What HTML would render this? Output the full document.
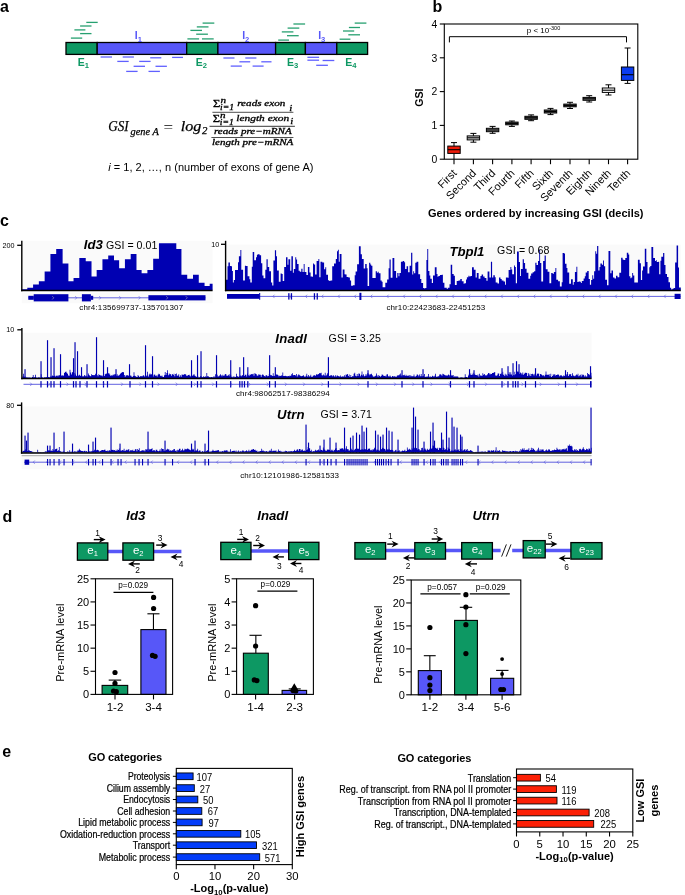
<!DOCTYPE html>
<html lang="en"><head><meta charset="utf-8"><title>GSI figure</title>
<style>html,body{margin:0;padding:0;background:#fff}svg{display:block}text{font-family:"Liberation Sans",Arial,Helvetica,sans-serif}text.sf{font-family:"Liberation Serif","DejaVu Serif",serif}</style></head>
<body>
<svg width="685" height="895" viewBox="0 0 685 895">
<rect width="685" height="895" fill="#fff"/>
<text transform="translate(0 11.6)" font-size="16" font-weight="bold">a</text>
<text transform="translate(432.5 11.6)" font-size="16" font-weight="bold">b</text>
<text transform="translate(0 226)" font-size="16" font-weight="bold">c</text>
<text transform="translate(2.4 521.8)" font-size="16" font-weight="bold">d</text>
<text transform="translate(2.2 756.7)" font-size="16" font-weight="bold">e</text>
<rect x="66" y="42.5" width="31.2" height="11.9" fill="#0d9863" stroke="#000" stroke-width="1.3"/>
<rect x="97.2" y="42.5" width="89.5" height="11.9" fill="#5757f8" stroke="#000" stroke-width="1.3"/>
<rect x="186.7" y="42.5" width="31.2" height="11.9" fill="#0d9863" stroke="#000" stroke-width="1.3"/>
<rect x="217.9" y="42.5" width="57.7" height="11.9" fill="#5757f8" stroke="#000" stroke-width="1.3"/>
<rect x="275.6" y="42.5" width="29.8" height="11.9" fill="#0d9863" stroke="#000" stroke-width="1.3"/>
<rect x="305.4" y="42.5" width="31.4" height="11.9" fill="#5757f8" stroke="#000" stroke-width="1.3"/>
<rect x="336.8" y="42.5" width="30.8" height="11.9" fill="#0d9863" stroke="#000" stroke-width="1.3"/>
<line x1="86.3" y1="22.4" x2="97.7" y2="22.4" stroke="#27a070" stroke-width="1.3" />
<line x1="80.1" y1="26" x2="91.5" y2="26" stroke="#27a070" stroke-width="1.3" />
<line x1="74.4" y1="29.9" x2="85.4" y2="29.9" stroke="#27a070" stroke-width="1.3" />
<line x1="80.1" y1="33.6" x2="91.5" y2="33.6" stroke="#27a070" stroke-width="1.3" />
<line x1="70.9" y1="38.1" x2="82.2" y2="38.1" stroke="#27a070" stroke-width="1.3" />
<line x1="202.6" y1="23.1" x2="214.3" y2="23.1" stroke="#27a070" stroke-width="1.3" />
<line x1="196.8" y1="26.9" x2="208.5" y2="26.9" stroke="#27a070" stroke-width="1.3" />
<line x1="190.4" y1="30.4" x2="202" y2="30.4" stroke="#27a070" stroke-width="1.3" />
<line x1="196.2" y1="34.2" x2="207.9" y2="34.2" stroke="#27a070" stroke-width="1.3" />
<line x1="187.4" y1="38.9" x2="199.1" y2="38.9" stroke="#27a070" stroke-width="1.3" />
<line x1="202" y1="38.9" x2="213.7" y2="38.9" stroke="#27a070" stroke-width="1.3" />
<line x1="293.4" y1="24" x2="305.1" y2="24" stroke="#27a070" stroke-width="1.3" />
<line x1="287.6" y1="28.1" x2="299.3" y2="28.1" stroke="#27a070" stroke-width="1.3" />
<line x1="281.8" y1="31.9" x2="293.4" y2="31.9" stroke="#27a070" stroke-width="1.3" />
<line x1="287" y1="35.7" x2="298.7" y2="35.7" stroke="#27a070" stroke-width="1.3" />
<line x1="278.2" y1="40.1" x2="289" y2="40.1" stroke="#27a070" stroke-width="1.3" />
<line x1="354.7" y1="23.1" x2="366.4" y2="23.1" stroke="#27a070" stroke-width="1.3" />
<line x1="348.9" y1="27.5" x2="360" y2="27.5" stroke="#27a070" stroke-width="1.3" />
<line x1="343" y1="31" x2="354.2" y2="31" stroke="#27a070" stroke-width="1.3" />
<line x1="348.3" y1="34.8" x2="360" y2="34.8" stroke="#27a070" stroke-width="1.3" />
<line x1="339.6" y1="39.2" x2="350.4" y2="39.2" stroke="#27a070" stroke-width="1.3" />
<line x1="100.6" y1="57" x2="112" y2="57" stroke="#6060ff" stroke-width="1.3" />
<line x1="122.7" y1="57" x2="133.9" y2="57" stroke="#6060ff" stroke-width="1.3" />
<line x1="150.2" y1="57.8" x2="161.3" y2="57.8" stroke="#6060ff" stroke-width="1.3" />
<line x1="172.1" y1="57.4" x2="183" y2="57.4" stroke="#6060ff" stroke-width="1.3" />
<line x1="117.3" y1="61.4" x2="128.7" y2="61.4" stroke="#6060ff" stroke-width="1.3" />
<line x1="139.2" y1="61.4" x2="150.6" y2="61.4" stroke="#6060ff" stroke-width="1.3" />
<line x1="133.6" y1="66.3" x2="145" y2="66.3" stroke="#6060ff" stroke-width="1.3" />
<line x1="155.5" y1="66.3" x2="166.9" y2="66.3" stroke="#6060ff" stroke-width="1.3" />
<line x1="126.2" y1="71.4" x2="137.6" y2="71.4" stroke="#6060ff" stroke-width="1.3" />
<line x1="148.5" y1="71.4" x2="159.9" y2="71.4" stroke="#6060ff" stroke-width="1.3" />
<line x1="223.4" y1="58" x2="234.5" y2="58" stroke="#6060ff" stroke-width="1.3" />
<line x1="245.3" y1="58" x2="256.4" y2="58" stroke="#6060ff" stroke-width="1.3" />
<line x1="239.4" y1="61.8" x2="250.2" y2="61.8" stroke="#6060ff" stroke-width="1.3" />
<line x1="261.3" y1="61.8" x2="271.5" y2="61.8" stroke="#6060ff" stroke-width="1.3" />
<line x1="230.7" y1="66.1" x2="241.8" y2="66.1" stroke="#6060ff" stroke-width="1.3" />
<line x1="252.6" y1="66.1" x2="263.6" y2="66.1" stroke="#6060ff" stroke-width="1.3" />
<line x1="307.4" y1="57.3" x2="319.1" y2="57.3" stroke="#6060ff" stroke-width="1.3" />
<line x1="307.4" y1="60.2" x2="319.1" y2="60.2" stroke="#6060ff" stroke-width="1.3" />
<line x1="322.6" y1="60.5" x2="334.3" y2="60.5" stroke="#6060ff" stroke-width="1.3" />
<line x1="316.2" y1="65.3" x2="327.9" y2="65.3" stroke="#6060ff" stroke-width="1.3" />
<text transform="translate(77.8 65.5)" font-size="10.5" font-weight="bold" fill="#0d9863">E<tspan font-size="7.6" dy="2.1">1</tspan></text>
<text transform="translate(195.8 65.5)" font-size="10.5" font-weight="bold" fill="#0d9863">E<tspan font-size="7.6" dy="2.1">2</tspan></text>
<text transform="translate(287 65.5)" font-size="10.5" font-weight="bold" fill="#0d9863">E<tspan font-size="7.6" dy="2.1">3</tspan></text>
<text transform="translate(345.3 65.5)" font-size="10.5" font-weight="bold" fill="#0d9863">E<tspan font-size="7.6" dy="2.1">4</tspan></text>
<text transform="translate(134.8 38.7)" font-size="10.5" font-weight="bold" fill="#5757f8">I<tspan font-size="7.6" dy="2.8">1</tspan></text>
<text transform="translate(242.2 38.7)" font-size="10.5" font-weight="bold" fill="#5757f8">I<tspan font-size="7.6" dy="2.8">2</tspan></text>
<text transform="translate(318.2 38.7)" font-size="10.5" font-weight="bold" fill="#5757f8">I<tspan font-size="7.6" dy="2.8">3</tspan></text>
<text transform="translate(108.2 130.9)" font-size="15.2" font-style="italic" class="sf" textLength="20.4" lengthAdjust="spacingAndGlyphs" stroke="#000" stroke-width="0.25">GSI</text>
<text transform="translate(130.6 134.5)" font-size="10" font-style="italic" class="sf" textLength="28.2" lengthAdjust="spacingAndGlyphs" stroke="#000" stroke-width="0.25">gene A</text>
<text transform="translate(163.6 131.8)" font-size="15" class="sf" textLength="9.6" lengthAdjust="spacingAndGlyphs">=</text>
<text transform="translate(180.8 130.9)" font-size="15" font-style="italic" class="sf" textLength="20.6" lengthAdjust="spacingAndGlyphs" stroke="#000" stroke-width="0.25">log</text>
<text transform="translate(202 134)" font-size="10.8" font-style="italic" class="sf" stroke="#000" stroke-width="0.25">2</text>
<line x1="209.5" y1="126.3" x2="294.9" y2="126.3" stroke="#222" stroke-width="0.9" />
<line x1="212.4" y1="112.3" x2="293.4" y2="112.3" stroke="#222" stroke-width="0.8" />
<line x1="211.4" y1="137.5" x2="293.4" y2="137.5" stroke="#222" stroke-width="0.8" />
<text transform="translate(213.1 107.4)" font-size="10.6" class="sf" textLength="7.3" lengthAdjust="spacingAndGlyphs" stroke="#000" stroke-width="0.3">Σ</text>
<text transform="translate(220.4 102.6)" font-size="8.6" font-style="italic" class="sf" textLength="5.6" lengthAdjust="spacingAndGlyphs" stroke="#000" stroke-width="0.3">n</text>
<text transform="translate(220.1 109.6)" font-size="8.6" font-style="italic" class="sf" textLength="14" lengthAdjust="spacingAndGlyphs" stroke="#000" stroke-width="0.3">i=1</text>
<text transform="translate(237.2 106.4)" font-size="8.8" font-style="italic" class="sf" textLength="48.2" lengthAdjust="spacingAndGlyphs" stroke="#000" stroke-width="0.3">reads exon</text>
<text transform="translate(289.3 111)" font-size="8.6" font-style="italic" class="sf" textLength="3" lengthAdjust="spacingAndGlyphs" stroke="#000" stroke-width="0.3">i</text>
<text transform="translate(212.8 122.4)" font-size="10.6" class="sf" textLength="7.3" lengthAdjust="spacingAndGlyphs" stroke="#000" stroke-width="0.3">Σ</text>
<text transform="translate(220.1 117.6)" font-size="8.6" font-style="italic" class="sf" textLength="5.6" lengthAdjust="spacingAndGlyphs" stroke="#000" stroke-width="0.3">n</text>
<text transform="translate(219.8 124.6)" font-size="8.6" font-style="italic" class="sf" textLength="14" lengthAdjust="spacingAndGlyphs" stroke="#000" stroke-width="0.3">i=1</text>
<text transform="translate(236.2 121.3)" font-size="8.8" font-style="italic" class="sf" textLength="53.1" lengthAdjust="spacingAndGlyphs" stroke="#000" stroke-width="0.3">length exon</text>
<text transform="translate(290.2 123.5)" font-size="8.6" font-style="italic" class="sf" textLength="3" lengthAdjust="spacingAndGlyphs" stroke="#000" stroke-width="0.3">i</text>
<text transform="translate(213.9 134.4)" font-size="8.8" font-style="italic" class="sf" textLength="77.8" lengthAdjust="spacingAndGlyphs" stroke="#000" stroke-width="0.3">reads pre−mRNA</text>
<text transform="translate(212 145.4)" font-size="8.8" font-style="italic" class="sf" textLength="81.4" lengthAdjust="spacingAndGlyphs" stroke="#000" stroke-width="0.3">length pre−mRNA</text>
<text transform="translate(108.2 170.6)" font-size="11" textLength="205.3" lengthAdjust="spacing"><tspan font-style="italic">i</tspan> = 1, 2, …, n (number of exons of gene A)</text>
<rect x="444.3" y="24" width="193.5" height="135.2" fill="none" stroke="#000" stroke-width="1.1"/>
<line x1="439.8" y1="159.2" x2="444.3" y2="159.2" stroke="#000" stroke-width="1.1" />
<text transform="translate(437.3 162.9)" font-size="10.4" text-anchor="end">0</text>
<line x1="439.8" y1="125.4" x2="444.3" y2="125.4" stroke="#000" stroke-width="1.1" />
<text transform="translate(437.3 129.1)" font-size="10.4" text-anchor="end">1</text>
<line x1="439.8" y1="91.6" x2="444.3" y2="91.6" stroke="#000" stroke-width="1.1" />
<text transform="translate(437.3 95.3)" font-size="10.4" text-anchor="end">2</text>
<line x1="439.8" y1="57.8" x2="444.3" y2="57.8" stroke="#000" stroke-width="1.1" />
<text transform="translate(437.3 61.5)" font-size="10.4" text-anchor="end">3</text>
<line x1="439.8" y1="24" x2="444.3" y2="24" stroke="#000" stroke-width="1.1" />
<text transform="translate(437.3 27.7)" font-size="10.4" text-anchor="end">4</text>
<text transform="translate(422.9 97.7) rotate(-90)" font-size="10.6" text-anchor="middle" font-weight="bold">GSI</text>
<path d="M449.4 42.4V36.7H626.5V42.4" fill="none" stroke="#000" stroke-width="1"/>
<text transform="translate(543.5 32.7)" font-size="8" text-anchor="middle">p &lt; 10<tspan font-size="5.5" dy="-3">-300</tspan></text>
<line x1="454" y1="159.2" x2="454" y2="164.2" stroke="#000" stroke-width="1.1" />
<line x1="454" y1="142.6" x2="454" y2="159.2" stroke="#000" stroke-width="1" />
<line x1="451" y1="142.6" x2="457" y2="142.6" stroke="#000" stroke-width="1" />
<rect x="447.8" y="146.1" width="12.4" height="7.3" fill="#ee1c0a" stroke="#000" stroke-width="1"/>
<line x1="447.8" y1="149.7" x2="460.2" y2="149.7" stroke="#000" stroke-width="1.1" />
<text transform="translate(457.4 173.8) rotate(-45)" font-size="11" text-anchor="end">First</text>
<line x1="473.4" y1="159.2" x2="473.4" y2="164.2" stroke="#000" stroke-width="1.1" />
<line x1="473.4" y1="133.4" x2="473.4" y2="142.2" stroke="#000" stroke-width="1" />
<line x1="470.4" y1="133.4" x2="476.4" y2="133.4" stroke="#000" stroke-width="1" />
<line x1="470.4" y1="142.2" x2="476.4" y2="142.2" stroke="#000" stroke-width="1" />
<rect x="467.2" y="135.9" width="12.4" height="4" fill="#cfcfcf" stroke="#000" stroke-width="1"/>
<line x1="467.2" y1="137.8" x2="479.6" y2="137.8" stroke="#000" stroke-width="1.1" />
<text transform="translate(476.8 173.8) rotate(-45)" font-size="11" text-anchor="end">Second</text>
<line x1="492.6" y1="159.2" x2="492.6" y2="164.2" stroke="#000" stroke-width="1.1" />
<line x1="492.6" y1="126.4" x2="492.6" y2="133.3" stroke="#000" stroke-width="1" />
<line x1="489.6" y1="126.4" x2="495.6" y2="126.4" stroke="#000" stroke-width="1" />
<line x1="489.6" y1="133.3" x2="495.6" y2="133.3" stroke="#000" stroke-width="1" />
<rect x="486.4" y="128.3" width="12.4" height="3.4" fill="#8a8a8a" stroke="#000" stroke-width="1"/>
<line x1="486.4" y1="130" x2="498.8" y2="130" stroke="#000" stroke-width="1.1" />
<text transform="translate(496 173.8) rotate(-45)" font-size="11" text-anchor="end">Third</text>
<line x1="511.9" y1="159.2" x2="511.9" y2="164.2" stroke="#000" stroke-width="1.1" />
<line x1="511.9" y1="121" x2="511.9" y2="126.4" stroke="#000" stroke-width="1" />
<line x1="508.9" y1="121" x2="514.9" y2="121" stroke="#000" stroke-width="1" />
<line x1="508.9" y1="126.4" x2="514.9" y2="126.4" stroke="#000" stroke-width="1" />
<rect x="505.7" y="122.1" width="12.4" height="2.7" fill="#555" stroke="#000" stroke-width="1"/>
<line x1="505.7" y1="123.4" x2="518.1" y2="123.4" stroke="#000" stroke-width="1.1" />
<text transform="translate(515.3 173.8) rotate(-45)" font-size="11" text-anchor="end">Fourth</text>
<line x1="531.1" y1="159.2" x2="531.1" y2="164.2" stroke="#000" stroke-width="1.1" />
<line x1="531.1" y1="114.9" x2="531.1" y2="120.7" stroke="#000" stroke-width="1" />
<line x1="528.1" y1="114.9" x2="534.1" y2="114.9" stroke="#000" stroke-width="1" />
<line x1="528.1" y1="120.7" x2="534.1" y2="120.7" stroke="#000" stroke-width="1" />
<rect x="524.9" y="116.3" width="12.4" height="3" fill="#555" stroke="#000" stroke-width="1"/>
<line x1="524.9" y1="117.8" x2="537.3" y2="117.8" stroke="#000" stroke-width="1.1" />
<text transform="translate(534.5 173.8) rotate(-45)" font-size="11" text-anchor="end">Fifth</text>
<line x1="550.5" y1="159.2" x2="550.5" y2="164.2" stroke="#000" stroke-width="1.1" />
<line x1="550.5" y1="108.4" x2="550.5" y2="114.6" stroke="#000" stroke-width="1" />
<line x1="547.5" y1="108.4" x2="553.5" y2="108.4" stroke="#000" stroke-width="1" />
<line x1="547.5" y1="114.6" x2="553.5" y2="114.6" stroke="#000" stroke-width="1" />
<rect x="544.3" y="110" width="12.4" height="3" fill="#555" stroke="#000" stroke-width="1"/>
<line x1="544.3" y1="111.5" x2="556.7" y2="111.5" stroke="#000" stroke-width="1.1" />
<text transform="translate(553.9 173.8) rotate(-45)" font-size="11" text-anchor="end">Sixth</text>
<line x1="570" y1="159.2" x2="570" y2="164.2" stroke="#000" stroke-width="1.1" />
<line x1="570" y1="102.3" x2="570" y2="108.5" stroke="#000" stroke-width="1" />
<line x1="567" y1="102.3" x2="573" y2="102.3" stroke="#000" stroke-width="1" />
<line x1="567" y1="108.5" x2="573" y2="108.5" stroke="#000" stroke-width="1" />
<rect x="563.8" y="104.1" width="12.4" height="2.7" fill="#555" stroke="#000" stroke-width="1"/>
<line x1="563.8" y1="105.4" x2="576.2" y2="105.4" stroke="#000" stroke-width="1.1" />
<text transform="translate(573.4 173.8) rotate(-45)" font-size="11" text-anchor="end">Seventh</text>
<line x1="589.2" y1="159.2" x2="589.2" y2="164.2" stroke="#000" stroke-width="1.1" />
<line x1="589.2" y1="95.7" x2="589.2" y2="102" stroke="#000" stroke-width="1" />
<line x1="586.2" y1="95.7" x2="592.2" y2="95.7" stroke="#000" stroke-width="1" />
<line x1="586.2" y1="102" x2="592.2" y2="102" stroke="#000" stroke-width="1" />
<rect x="583" y="97.4" width="12.4" height="2.9" fill="#777" stroke="#000" stroke-width="1"/>
<line x1="583" y1="98.8" x2="595.4" y2="98.8" stroke="#000" stroke-width="1.1" />
<text transform="translate(592.6 173.8) rotate(-45)" font-size="11" text-anchor="end">Eighth</text>
<line x1="608.5" y1="159.2" x2="608.5" y2="164.2" stroke="#000" stroke-width="1.1" />
<line x1="608.5" y1="84.8" x2="608.5" y2="95" stroke="#000" stroke-width="1" />
<line x1="605.5" y1="84.8" x2="611.5" y2="84.8" stroke="#000" stroke-width="1" />
<line x1="605.5" y1="95" x2="611.5" y2="95" stroke="#000" stroke-width="1" />
<rect x="602.3" y="88" width="12.4" height="4.4" fill="#ffffff" stroke="#000" stroke-width="1"/>
<line x1="602.3" y1="90.2" x2="614.7" y2="90.2" stroke="#000" stroke-width="1.1" />
<text transform="translate(611.9 173.8) rotate(-45)" font-size="11" text-anchor="end">Nineth</text>
<line x1="627.6" y1="159.2" x2="627.6" y2="164.2" stroke="#000" stroke-width="1.1" />
<line x1="627.6" y1="48" x2="627.6" y2="83.4" stroke="#000" stroke-width="1" />
<line x1="624.6" y1="48" x2="630.6" y2="48" stroke="#000" stroke-width="1" />
<line x1="624.6" y1="83.4" x2="630.6" y2="83.4" stroke="#000" stroke-width="1" />
<rect x="621.4" y="67" width="12.4" height="13.4" fill="#0a3cf0" stroke="#000" stroke-width="1"/>
<line x1="621.4" y1="74.7" x2="633.8" y2="74.7" stroke="#000" stroke-width="1.1" />
<text transform="translate(631 173.8) rotate(-45)" font-size="11" text-anchor="end">Tenth</text>
<text transform="translate(427.9 216.9)" font-size="11" font-weight="bold" textLength="215.6" lengthAdjust="spacing">Genes ordered by increasing GSI (decils)</text>
<rect x="21.8" y="240.8" width="190.8" height="49.4" fill="#fafafa"/>
<path d="M21.52 290.2V289.24H27.3V287.63H33.08V284.42H38.86V281.21H44.64V271.57H50.42V253.91H56.2V249.1H62.62V263.55H68.4V281.21H73.54V278H79.32V258.09H85.74V261.3H91.52V276.39H96.66V269.97H102.44V259.37H108.22V255.52H114V260.33H119.14V268.36H124.92V259.37H130.7V253.91H136.48V269.97H141.62V273.18H147.4V269.97H153.18V258.73H158.96V243.31H176.3V249.1H181.44V274.79H187.22V278.64H193V274.79H198.78V282.81H204.56V286.03H209.7V283.78H212.59V290.2Z" fill="#0000b2"/>
<line x1="21.8" y1="240.8" x2="21.8" y2="291.2" stroke="#000" stroke-width="1.4" />
<line x1="17.2" y1="245.3" x2="21.8" y2="245.3" stroke="#000" stroke-width="1.3" />
<line x1="21.1" y1="290.5" x2="212.6" y2="290.5" stroke="#000" stroke-width="1.5" />
<text transform="translate(14.4 247.9)" font-size="7.2" text-anchor="end">200</text>
<text transform="translate(83.8 248.7)" font-size="13.2" font-weight="bold" font-style="italic">Id3</text>
<text transform="translate(106 248.7)" font-size="10.6" textLength="51.4" lengthAdjust="spacing">GSI = 0.01</text>
<rect x="21.8" y="292.6" width="190.8" height="10.6" fill="#fafafa"/>
<line x1="28.3" y1="297.8" x2="205.5" y2="297.8" stroke="#3a3ad8" stroke-width="0.8" />
<rect x="28.3" y="295.8" width="5.5" height="4" fill="#0000b2"/>
<rect x="33.7" y="294.2" width="34.7" height="7.2" fill="#0000b2"/>
<rect x="81.9" y="294.2" width="9" height="7.2" fill="#0000b2"/>
<rect x="90.9" y="295.8" width="2.3" height="4" fill="#0000b2"/>
<rect x="148.4" y="295.2" width="57.1" height="5.2" fill="#0000b2"/>
<path d="M75.2 296.1l1.6 1.7l-1.6 1.7M99.2 296.1l1.6 1.7l-1.6 1.7M119.2 296.1l1.6 1.7l-1.6 1.7M138.7 296.1l1.6 1.7l-1.6 1.7" fill="none" stroke="#5656dc" stroke-width="0.6"/>
<path d="M52.2 296.1l1.6 1.7l-1.6 1.7M166.2 296.1l1.6 1.7l-1.6 1.7M185.7 296.1l1.6 1.7l-1.6 1.7" fill="none" stroke="#aab" stroke-width="0.6"/>
<text transform="translate(79.3 309.7)" font-size="8" textLength="103.8" lengthAdjust="spacing">chr4:135699737-135701307</text>
<rect x="225.6" y="244.6" width="455.2" height="45.6" fill="#fafafa"/>
<path d="M226 290.2V279.69H227.5V266.36H228.4V262.5H229.9V266.04H231.1V266.2H232V270.9H232.9V282.38H233.8V280.04H235V270.1H236.5V269.98H238V262.34H238.9V256.37H240.4V249.92H241.3V269.84H243.1V280.59H244.9V265.64H246.1V266.02H247.6V276.25H249.4V279.2H250.3V282.38H251.8V266.8H252.7V251.92H254.2V260.16H256V257.36H256.9V254.82H257.8V254.23H259.6V255.21H261.1V263.27H262.3V275.39H263.5V278.37H265.3V269.8H266.5V259.13H267.7V266.94H269.2V271.26H271V282.62H272.2V285.59H273.4V260.59H274.9V250.36H276.1V256.22H277V270.43H278.8V281.65H280.6V273.44H281.8V273.88H282.7V280.88H284.2V267.06H286V257.16H287.5V264.81H288.4V259.17H290.2V270.67H291.4V256.18H292.9V272.68H293.8V268.99H295.3V257.24H296.2V259.46H297.1V263.88H298.6V270.73H299.8V271.72H301.3V268.83H302.5V271.95H303.7V264.07H304.6V272.1H306.4V275.09H307.9V267.08H309.4V272.54H310.6V276.54H312.1V276.73H313V263.44H313.9V264.59H315.1V274.44H316.6V261.05H318.4V259.05H319.3V277.31H320.5V261.8H322.3V262.59H324.1V269.34H325.3V267.14H326.2V274.79H328V280.22H329.2V281.01H330.4V280.47H332.2V266.21H334V263.41H335.8V259.1H337V251.19H337.9V249.7H338.8V261.85H339.7V254.04H341.5V277.49H342.7V269.5H344.5V274.2H345.4V274.53H346.6V277H348.4V277.41H349.9V280.4H351.1V285.82H352.9V285.15H354.7V275.37H355.6V271.58H357.1V264.16H358.9V246.26H360.7V254.34H361.9V259.07H363.7V268.42H365.2V264.07H366.7V268.22H367.6V286.01H369.1V262.7H370.3V264.51H371.2V265.85H372.4V278.05H373.9V277.96H375.7V271.13H376.9V272.7H377.8V271.65H378.7V273.28H380.5V280.44H381.7V281.82H382.6V287.18H383.8V287.35H385.3V282.76H387.1V279.59H388.6V268.25H389.5V259.48H390.7V277.76H392.5V258.1H394.3V271H396.1V277.69H397.3V272.92H398.5V276.13H399.4V272.91H400.9V261.73H402.7V261.04H404.2V262.2H405.1V268.89H406.6V266.24H408.1V272.15H409.6V265.68H411.1V252.87H412.3V274.43H413.2V271.26H414.1V273.34H415.3V262.65H416.5V261.83H418.3V274.36H420.1V278.89H421.3V282.93H423.1V287.95H424.3V288.56H425.2V288.04H426.4V260.09H427.3V248.93H428.2V270.95H429.4V275.62H430.3V278.63H431.8V282.88H433V275.53H434.8V267.32H436.6V273.9H437.5V276.76H438.4V275.96H439.9V274.89H441.7V274.71H442.9V282.69H444.4V287.63H445.3V287.64H446.8V288.9H447.7V287.63H449.5V284.17H450.7V264.71H452.2V273.98H453.7V275.67H454.9V284.92H456.7V281.04H458.5V280.45H460.3V279.07H461.8V281.24H463.6V283.69H464.5V283.15H466V279.41H466.9V277.32H468.4V275.67H469.3V276.48H470.5V276.09H472V267.29H473.8V269.84H475.6V277.57H476.8V272.96H478.6V278.79H480.4V276.12H481.6V274.46H483.1V276.54H484.6V278.01H486.4V280.84H487.6V271.62H489.4V277.5H490.9V261.73H492.1V277.42H493.3V275.31H494.8V277.37H495.7V282.41H497.5V283.44H499V277.53H500.5V279H501.7V280.57H503.5V281.61H505V284.64H505.9V277.4H507.7V277.8H508.6V269.9H510.4V266.97H511.3V269.49H512.2V274.2H514V265.52H514.9V266.92H515.8V283.14H517V251.61H518.8V261.99H520V276.12H520.9V269.04H522.7V259.22H523.9V263.09H525.1V268.82H526.6V272.79H528.4V278.64H530.2V275.71H531.1V273.56H532.6V272.31H534.1V271.32H535.3V262.83H536.5V265.1H538V260.89H539.2V249.7H540.1V262.88H541.3V281.46H543.1V260.99H544.6V255.38H545.8V269.29H547.6V271.65H549.4V283.29H551.2V272.97H552.7V273.8H553.9V271.99H555.4V267.89H556.3V279.72H558.1V281.29H559.9V286.38H561.7V282.16H562.6V252.99H564.1V253.55H565V263.85H566.5V268.11H567.4V272.4H569.2V283.67H571V279.34H572.8V284.78H573.7V282.12H574.9V272.02H576.4V266.63H577.3V281.95H578.5V281.55H580V281.85H580.9V282.94H581.8V280.89H583.6V278.55H584.8V276.14H585.7V272.42H587.2V271.02H588.7V278.9H589.9V284.81H591.1V279.96H592.3V275.33H593.2V278.72H594.1V271.34H595.3V251.32H596.2V253.63H597.1V246.03H598.3V270.48H599.5V266.92H600.4V263.45H601.9V264.75H603.1V260.58H604V266.23H605.2V279.75H607V285.37H608.5V250.95H610.3V273.34H611.5V270.59H613V277.48H614.5V278.44H616V275.75H617.5V277.17H619.3V272.69H621.1V257.84H622.6V259.61H623.5V259.91H625.3V257.99H626.8V252.66H628.3V254.46H629.2V276.15H630.4V278.17H631.3V277.4H632.2V272.95H633.1V275.61H634.3V282.54H636.1V282.59H637.9V259.64H639.7V263.23H640.9V280.06H642.1V270.48H643V266.53H644.8V248.87H646.3V261.95H647.5V273.6H649.3V267.33H650.2V266.1H651.4V246.93H653.2V258.1H655V261H655.9V260.31H656.8V261.94H658.3V261.86H659.2V274.16H660.4V260.76H661.3V256.72H663.1V253.06H664.3V265H665.5V273.98H667V276.98H668.5V282.29H670V287.64H671.2V289.45H672.4V288.85H673.6V288.01H675.1V262.54H676.6V245.59H678.1V267.49H679V287.6H680.8V289.82H680.8V290.2Z" fill="#0000b2"/>
<line x1="225.6" y1="240.8" x2="225.6" y2="291.2" stroke="#000" stroke-width="1.4" />
<line x1="221" y1="244.3" x2="225.6" y2="244.3" stroke="#000" stroke-width="1.3" />
<line x1="224.9" y1="290.5" x2="680.8" y2="290.5" stroke="#000" stroke-width="1.5" />
<text transform="translate(219.2 246.9)" font-size="7.2" text-anchor="end">10</text>
<text transform="translate(449.4 255.7)" font-size="13.2" font-weight="bold" font-style="italic" textLength="35" lengthAdjust="spacing">Tbpl1</text>
<text transform="translate(497 254)" font-size="10.6" textLength="52.5" lengthAdjust="spacing">GSI = 0.68</text>
<line x1="227" y1="296.4" x2="680.6" y2="296.4" stroke="#3a3ad8" stroke-width="0.8" />
<rect x="227" y="294" width="32.6" height="4.8" fill="#0000b2"/>
<rect x="259.2" y="293" width="1" height="6.8" fill="#0000b2"/>
<rect x="288.2" y="293.2" width="1.3" height="6.4" fill="#0000b2"/>
<rect x="290.8" y="293.2" width="1.3" height="6.4" fill="#0000b2"/>
<rect x="313.8" y="293.2" width="1.3" height="6.4" fill="#0000b2"/>
<rect x="316.6" y="293.2" width="1.3" height="6.4" fill="#0000b2"/>
<rect x="359.4" y="292.8" width="2" height="7.2" fill="#0000b2"/>
<rect x="674.6" y="293.8" width="6" height="5.2" fill="#0000b2"/>
<path d="M274.5 294.7l-1.6 1.7l1.6 1.7M290.8 294.7l-1.6 1.7l1.6 1.7M307.1 294.7l-1.6 1.7l1.6 1.7M323.4 294.7l-1.6 1.7l1.6 1.7M339.7 294.7l-1.6 1.7l1.6 1.7M356 294.7l-1.6 1.7l1.6 1.7M372.3 294.7l-1.6 1.7l1.6 1.7M388.6 294.7l-1.6 1.7l1.6 1.7M404.9 294.7l-1.6 1.7l1.6 1.7M421.2 294.7l-1.6 1.7l1.6 1.7M437.5 294.7l-1.6 1.7l1.6 1.7M453.8 294.7l-1.6 1.7l1.6 1.7M470.1 294.7l-1.6 1.7l1.6 1.7M486.4 294.7l-1.6 1.7l1.6 1.7M502.7 294.7l-1.6 1.7l1.6 1.7M519 294.7l-1.6 1.7l1.6 1.7M535.3 294.7l-1.6 1.7l1.6 1.7M551.6 294.7l-1.6 1.7l1.6 1.7M567.9 294.7l-1.6 1.7l1.6 1.7M584.2 294.7l-1.6 1.7l1.6 1.7M600.5 294.7l-1.6 1.7l1.6 1.7M616.8 294.7l-1.6 1.7l1.6 1.7M633.1 294.7l-1.6 1.7l1.6 1.7M649.4 294.7l-1.6 1.7l1.6 1.7M665.7 294.7l-1.6 1.7l1.6 1.7" fill="none" stroke="#5656dc" stroke-width="0.6"/>
<text transform="translate(386.4 309.8)" font-size="8" textLength="98.8" lengthAdjust="spacing">chr10:22423683-22451253</text>
<rect x="21.9" y="332.7" width="569.7" height="45.5" fill="#fafafa"/>
<path d="M22.4 378.2V376.5H23.2V373.71H24V376.65H24.8V376.61H25.6V377.62H26.4V377.31H27.2V377.55H28V377.47H28.8V377.57H29.6V377.59H30.4V377.64H31.2V377.63H32V377.04H32.8V375.11H33.6V377.46H34.4V376.97H35.2V374.83H36V377.54H36.8V377.73H37.6V377.62H38.4V377.31H39.2V377.58H40V377.69H40.8V374.27H41.6V377.33H42.4V377.53H43.2V377.69H44V377.13H44.8V377.49H45.6V377.04H46.4V377.16H47.2V375.38H48V377.07H48.8V377.24H49.6V377.16H50.4V376.31H51.2V376.43H52V375.46H52.8V376.02H53.6V375.91H54.4V375.6H55.2V376.45H56V375.63H56.8V375.54H57.6V376.3H58.4V375.22H59.2V375.17H60V373.63H60.8V375.18H61.6V376.05H62.4V375.03H63.2V375.79H64V372.92H64.8V371.89H65.6V371.41H66.4V372.67H67.2V373.64H68V375.49H68.8V375.86H69.6V369.73H70.4V372.56H71.2V374.42H72V371.94H72.8V372.95H73.6V375.75H74.4V373.06H75.2V374.53H76V375.73H76.8V376.09H77.6V375.79H78.4V375.58H79.2V374.83H80V375.92H80.8V375.06H81.6V375.63H82.4V376.43H83.2V376.15H84V374.95H84.8V376.36H85.6V375.41H86.4V376.27H87.2V376.49H88V373.41H88.8V375.11H89.6V376.12H90.4V376.35H91.2V374.3H92V375.01H92.8V375.19H93.6V375.11H94.4V375.14H95.2V373.71H96V373.79H96.8V375.03H97.6V376.14H98.4V374.22H99.2V375.12H100V375.17H100.8V375.87H101.6V375.23H102.4V376.32H103.2V373.99H104V376.12H104.8V374.19H105.6V373.84H106.4V373.46H107.2V375.2H108V373.35H108.8V373.57H109.6V374.65H110.4V375.99H111.2V375.13H112V375.51H112.8V374.43H113.6V375.29H114.4V373.89H115.2V374.3H116V375.78H116.8V374.25H117.6V375.85H118.4V375.4H119.2V374.68H120V373.85H120.8V373.09H121.6V372.27H122.4V372.06H123.2V372.37H124V375.1H124.8V376.84H125.6V375.46H126.4V375.2H127.2V375.22H128V375.68H128.8V375.31H129.6V375.93H130.4V375.19H131.2V376.53H132V376.89H132.8V375.97H133.6V372.32H134.4V375.79H135.2V376.19H136V376.83H136.8V376.93H137.6V374.98H138.4V375.88H139.2V376.91H140V376.25H140.8V375.95H141.6V376.52H142.4V375.77H143.2V375.17H144V376.38H144.8V375.54H145.6V376.28H146.4V375.58H147.2V371.7H148V376.42H148.8V374.53H149.6V373.58H150.4V374.47H151.2V374.29H152V374.99H152.8V376.54H153.6V374.83H154.4V374.46H155.2V375.8H156V375.44H156.8V376.48H157.6V374.66H158.4V373.74H159.2V374.32H160V375.68H160.8V376.19H161.6V375.43H162.4V376.75H163.2V376.9H164V375.26H164.8V371.91H165.6V374.96H166.4V373.01H167.2V370.34H168V375.21H168.8V373.56H169.6V374.39H170.4V374.08H171.2V375.7H172V374.04H172.8V375.01H173.6V373.78H174.4V376.21H175.2V373.88H176V373.54H176.8V375.64H177.6V375.52H178.4V374.14H179.2V376.67H180V375.15H180.8V376.64H181.6V374.6H182.4V374.73H183.2V374.67H184V374.26H184.8V373.99H185.6V374.81H186.4V376.03H187.2V375.57H188V374.88H188.8V374.69H189.6V375.78H190.4V376.48H191.2V376.09H192V375.74H192.8V375.29H193.6V374.02H194.4V375.39H195.2V376.18H196V376.73H196.8V376.92H197.6V376.41H198.4V377.42H199.2V377.36H200V376.35H200.8V376.3H201.6V376.96H202.4V377.14H203.2V376.24H204V376.9H204.8V376.2H205.6V376.65H206.4V373.1H207.2V376.16H208V376.24H208.8V376.92H209.6V377.21H210.4V377.18H211.2V377.02H212V377.35H212.8V377.32H213.6V376H214.4V377.17H215.2V374.14H216V375.6H216.8V374.77H217.6V376.42H218.4V376.16H219.2V375.4H220V374.17H220.8V375.18H221.6V376.26H222.4V374.75H223.2V375.82H224V375.61H224.8V374.05H225.6V374.13H226.4V375.81H227.2V375.83H228V375.29H228.8V374.27H229.6V376.33H230.4V374.81H231.2V376.63H232V377.17H232.8V376.37H233.6V377.36H234.4V376.49H235.2V377.01H236V373.8H236.8V376.3H237.6V376.35H238.4V376.96H239.2V376.1H240V375.55H240.8V376.37H241.6V375.47H242.4V375.06H243.2V375.94H244V375.96H244.8V374.79H245.6V374.67H246.4V376.47H247.2V373.52H248V375.37H248.8V375.63H249.6V374.42H250.4V374.67H251.2V374.02H252V374.17H252.8V373.74H253.6V375.75H254.4V373.35H255.2V373.75H256V374.31H256.8V375.67H257.6V375.39H258.4V374.14H259.2V374.73H260V374.63H260.8V376.64H261.6V374.95H262.4V374.3H263.2V375.35H264V375.95H264.8V376.39H265.6V375.34H266.4V375.27H267.2V376.34H268V375.92H268.8V374.33H269.6V374.84H270.4V375.36H271.2V375.33H272V376.01H272.8V373.21H273.6V375.95H274.4V375.81H275.2V374.42H276V374.59H276.8V374.58H277.6V375H278.4V376.31H279.2V375.71H280V375.91H280.8V375.39H281.6V375.49H282.4V372.45H283.2V375.93H284V376.09H284.8V375.68H285.6V375.99H286.4V376.13H287.2V376.27H288V375.88H288.8V376.23H289.6V375.5H290.4V376.03H291.2V374.34H292V373.23H292.8V375.33H293.6V375.12H294.4V375.08H295.2V375.51H296V373.93H296.8V376.4H297.6V375.26H298.4V374.36H299.2V375.33H300V375.67H300.8V376.25H301.6V375.94H302.4V375.63H303.2V375.22H304V376.45H304.8V376.66H305.6V375.82H306.4V373.85H307.2V376.43H308V375.09H308.8V376.52H309.6V376.37H310.4V374.76H311.2V376.69H312V376.73H312.8V375.81H313.6V375.19H314.4V375.32H315.2V375.83H316V374.15H316.8V374.85H317.6V374.15H318.4V374.03H319.2V373.12H320V373.27H320.8V372.76H321.6V375.32H322.4V375.4H323.2V374.47H324V375.58H324.8V372.75H325.6V375.8H326.4V374.78H327.2V373.29H328V375.54H328.8V376.09H329.6V375.67H330.4V375.32H331.2V375.32H332V376.32H332.8V375.07H333.6V376.01H334.4V376.78H335.2V375.21H336V376.55H336.8V375.27H337.6V375.95H338.4V376.27H339.2V376.42H340V375.61H340.8V376.97H341.6V376.26H342.4V376.53H343.2V376.41H344V375.37H344.8V376.73H345.6V374.62H346.4V374.63H347.2V374.08H348V376.02H348.8V374.4H349.6V377.09H350.4V375.06H351.2V377.06H352V376.23H352.8V376.27H353.6V373.8H354.4V372.77H355.2V375.73H356V376.13H356.8V374.01H357.6V376.11H358.4V373.41H359.2V373.73H360V376.22H360.8V374.74H361.6V371.39H362.4V375.55H363.2V374.33H364V376.19H364.8V375.73H365.6V374.09H366.4V375.6H367.2V373.35H368V373.51H368.8V375.29H369.6V373.9H370.4V374.42H371.2V373.66H372V375.19H372.8V376.59H373.6V376.77H374.4V376.24H375.2V375.84H376V373.41H376.8V375.61H377.6V376.72H378.4V375.1H379.2V376.08H380V376.66H380.8V375.96H381.6V374.52H382.4V374.68H383.2V375.87H384V375.89H384.8V375.76H385.6V376.62H386.4V374.57H387.2V374.24H388V376.31H388.8V376.51H389.6V375.55H390.4V376.58H391.2V377.29H392V376.02H392.8V376.22H393.6V376.74H394.4V375.95H395.2V376.81H396V376.72H396.8V375.87H397.6V374.95H398.4V375.5H399.2V374.57H400V373.51H400.8V375.53H401.6V376.37H402.4V375.06H403.2V375.29H404V374.8H404.8V376.09H405.6V374.74H406.4V375.65H407.2V375.66H408V375.73H408.8V375.04H409.6V376.45H410.4V375.14H411.2V376.33H412V376.37H412.8V376.17H413.6V374.5H414.4V376.49H415.2V376.6H416V375.81H416.8V374.18H417.6V375.08H418.4V376.17H419.2V374.51H420V376.29H420.8V373.99H421.6V376.21H422.4V376.17H423.2V375.74H424V373.99H424.8V377.1H425.6V376.38H426.4V376.66H427.2V376.4H428V373.98H428.8V376.46H429.6V377.22H430.4V376.16H431.2V377.02H432V375.84H432.8V376.35H433.6V376.76H434.4V375.74H435.2V373.74H436V376.81H436.8V376.75H437.6V376.2H438.4V376.22H439.2V374.56H440V374.26H440.8V374.66H441.6V375.7H442.4V373.75H443.2V374.27H444V374.64H444.8V375.32H445.6V375.57H446.4V375.43H447.2V375.48H448V374.41H448.8V374.97H449.6V376.15H450.4V374.66H451.2V375.5H452V375.5H452.8V375.04H453.6V376.71H454.4V376.21H455.2V376.57H456V376.59H456.8V376.22H457.6V376.77H458.4V377.68H459.2V377.66H460V377.54H460.8V377.31H461.6V377.41H462.4V377.46H463.2V377.73H464V377.38H464.8V374.37H465.6V376.99H466.4V376.88H467.2V377.38H468V375.47H468.8V374.34H469.6V374.96H470.4V373.57H471.2V375.03H472V374.5H472.8V372.71H473.6V374.76H474.4V373.81H475.2V375.06H476V374.96H476.8V375.5H477.6V374.42H478.4V376.48H479.2V373.69H480V375.55H480.8V375.6H481.6V375.99H482.4V373.18H483.2V374.77H484V374H484.8V375.28H485.6V375.49H486.4V375.15H487.2V374.18H488V373.1H488.8V373.26H489.6V374.46H490.4V373.75H491.2V374.11H492V373.01H492.8V373.08H493.6V372.6H494.4V372.12H495.2V375.59H496V375.7H496.8V375.22H497.6V373.58H498.4V373.52H499.2V376.1H500V374.12H500.8V373.19H501.6V374.56H502.4V371.64H503.2V374.82H504V375.65H504.8V373.86H505.6V375.41H506.4V374.43H507.2V375.98H508V373.93H508.8V372.24H509.6V374.5H510.4V372.31H511.2V374.47H512V376.03H512.8V375.08H513.6V375.14H514.4V371.63H515.2V374.31H516V374.35H516.8V371.77H517.6V371.15H518.4V372.3H519.2V373.89H520V372.62H520.8V373.24H521.6V374.49H522.4V372.53H523.2V374.84H524V373.65H524.8V372.63H525.6V372.76H526.4V372.91H527.2V375.97H528V373.29H528.8V375.4H529.6V373.67H530.4V376.08H531.2V374.11H532V373.77H532.8V374.15H533.6V375.6H534.4V373.69H535.2V376.18H536V375.48H536.8V373.65H537.6V373.57H538.4V373.79H539.2V376.23H540V374.05H540.8V374.26H541.6V375.11H542.4V375.75H543.2V375.16H544V376.14H544.8V374.66H545.6V371.6H546.4V374.86H547.2V374.83H548V374.77H548.8V374.19H549.6V376.24H550.4V373.86H551.2V376.89H552V375.91H552.8V374.25H553.6V375.13H554.4V373.89H555.2V375.39H556V375.01H556.8V375.08H557.6V374.11H558.4V375H559.2V376.37H560V375.6H560.8V375.02H561.6V376.08H562.4V376.5H563.2V375.51H564V375.88H564.8V374.67H565.6V375.38H566.4V374.21H567.2V371.97H568V376.04H568.8V374.23H569.6V374.6H570.4V374.12H571.2V375.96H572V373.14H572.8V375.46H573.6V375.8H574.4V376.18H575.2V375.54H576V374.45H576.8V375.24H577.6V373.65H578.4V376.21H579.2V375.57H580V374.84H580.8V376.44H581.6V374.33H582.4V375.36H583.2V374.78H584V376.49H584.8V375.18H585.6V376.59H586.4V376.59H587.2V373.08H588V373.92H588.8V374.49H589.6V375.37H590.4V375.68H591.2V372.87H591.6V378.2Z" fill="#0000b2"/>
<rect x="24.45" y="369.2" width="1.15" height="9" fill="#0000b2"/>
<rect x="40.45" y="361.2" width="1.15" height="17" fill="#0000b2"/>
<rect x="46.95" y="340.2" width="1.15" height="38" fill="#0000b2"/>
<rect x="50.45" y="357.2" width="1.15" height="21" fill="#0000b2"/>
<rect x="53.45" y="348.2" width="1.15" height="30" fill="#0000b2"/>
<rect x="59.95" y="354.2" width="1.15" height="24" fill="#0000b2"/>
<rect x="72.95" y="358.2" width="1.15" height="20" fill="#0000b2"/>
<rect x="74.45" y="342.2" width="1.15" height="36" fill="#0000b2"/>
<rect x="76.95" y="351.2" width="1.15" height="27" fill="#0000b2"/>
<rect x="80.95" y="367.2" width="1.15" height="11" fill="#0000b2"/>
<rect x="86.45" y="364.2" width="1.15" height="14" fill="#0000b2"/>
<rect x="95.95" y="337.2" width="1.15" height="41" fill="#0000b2"/>
<rect x="102.95" y="360.2" width="1.15" height="18" fill="#0000b2"/>
<rect x="106.95" y="367.2" width="1.15" height="11" fill="#0000b2"/>
<rect x="115.45" y="369.2" width="1.15" height="9" fill="#0000b2"/>
<rect x="128.95" y="364.2" width="1.15" height="14" fill="#0000b2"/>
<rect x="144.95" y="345.2" width="1.15" height="33" fill="#0000b2"/>
<rect x="151.95" y="356.2" width="1.15" height="22" fill="#0000b2"/>
<rect x="190.95" y="360.2" width="1.15" height="18" fill="#0000b2"/>
<rect x="196.95" y="355.2" width="1.15" height="23" fill="#0000b2"/>
<rect x="200.45" y="351.2" width="1.15" height="27" fill="#0000b2"/>
<rect x="215.95" y="355.2" width="1.15" height="23" fill="#0000b2"/>
<rect x="230.15" y="360.2" width="1.15" height="18" fill="#0000b2"/>
<rect x="239.25" y="367.2" width="1.15" height="11" fill="#0000b2"/>
<rect x="243.05" y="357.2" width="1.15" height="21" fill="#0000b2"/>
<rect x="247.25" y="367.2" width="1.15" height="11" fill="#0000b2"/>
<rect x="269.05" y="355.2" width="1.15" height="23" fill="#0000b2"/>
<rect x="274.75" y="367.2" width="1.15" height="11" fill="#0000b2"/>
<rect x="327.85" y="357.2" width="1.15" height="21" fill="#0000b2"/>
<rect x="367.45" y="370.2" width="1.15" height="8" fill="#0000b2"/>
<rect x="401.45" y="370.2" width="1.15" height="8" fill="#0000b2"/>
<rect x="422.45" y="369.2" width="1.15" height="9" fill="#0000b2"/>
<rect x="449.95" y="370.2" width="1.15" height="8" fill="#0000b2"/>
<rect x="468.95" y="369.2" width="1.15" height="9" fill="#0000b2"/>
<rect x="473.45" y="370.2" width="1.15" height="8" fill="#0000b2"/>
<rect x="501.45" y="368.2" width="1.15" height="10" fill="#0000b2"/>
<rect x="507.45" y="366.2" width="1.15" height="12" fill="#0000b2"/>
<rect x="512.45" y="363.2" width="1.15" height="15" fill="#0000b2"/>
<rect x="515.95" y="361.2" width="1.15" height="17" fill="#0000b2"/>
<rect x="518.45" y="364.2" width="1.15" height="14" fill="#0000b2"/>
<rect x="534.95" y="368.2" width="1.15" height="10" fill="#0000b2"/>
<rect x="564.95" y="370.2" width="1.15" height="8" fill="#0000b2"/>
<rect x="589.95" y="366.2" width="1.15" height="12" fill="#0000b2"/>
<line x1="21.9" y1="328.1" x2="21.9" y2="379.2" stroke="#000" stroke-width="1.4" />
<line x1="17.3" y1="329.8" x2="21.9" y2="329.8" stroke="#000" stroke-width="1.3" />
<line x1="21.2" y1="378.5" x2="591.6" y2="378.5" stroke="#000" stroke-width="1.5" />
<text transform="translate(14.2 332.4)" font-size="7.2" text-anchor="end">10</text>
<text transform="translate(275.3 342.6)" font-size="13.2" font-weight="bold" font-style="italic" textLength="31.7" lengthAdjust="spacing">Inadl</text>
<text transform="translate(328.5 342.2)" font-size="10.6" textLength="52.5" lengthAdjust="spacing">GSI = 3.25</text>
<line x1="23.5" y1="384.3" x2="591.4" y2="384.3" stroke="#3a3ad8" stroke-width="0.8" />
<rect x="40.4" y="381.1" width="1.2" height="6.4" fill="#0000b2"/>
<rect x="46.9" y="381.1" width="1.2" height="6.4" fill="#0000b2"/>
<rect x="50.4" y="381.1" width="1.2" height="6.4" fill="#0000b2"/>
<rect x="53.4" y="381.1" width="1.2" height="6.4" fill="#0000b2"/>
<rect x="59.9" y="381.1" width="1.2" height="6.4" fill="#0000b2"/>
<rect x="72.9" y="381.1" width="1.2" height="6.4" fill="#0000b2"/>
<rect x="75.4" y="381.1" width="1.2" height="6.4" fill="#0000b2"/>
<rect x="79.4" y="381.1" width="1.2" height="6.4" fill="#0000b2"/>
<rect x="86.4" y="381.1" width="1.2" height="6.4" fill="#0000b2"/>
<rect x="95.9" y="381.1" width="1.2" height="6.4" fill="#0000b2"/>
<rect x="102.9" y="381.1" width="1.2" height="6.4" fill="#0000b2"/>
<rect x="106.9" y="381.1" width="1.2" height="6.4" fill="#0000b2"/>
<rect x="129.4" y="381.1" width="1.2" height="6.4" fill="#0000b2"/>
<rect x="144.9" y="381.1" width="1.2" height="6.4" fill="#0000b2"/>
<rect x="151.9" y="381.1" width="1.2" height="6.4" fill="#0000b2"/>
<rect x="190.9" y="381.1" width="1.2" height="6.4" fill="#0000b2"/>
<rect x="196.9" y="381.1" width="1.2" height="6.4" fill="#0000b2"/>
<rect x="200.4" y="381.1" width="1.2" height="6.4" fill="#0000b2"/>
<rect x="215.9" y="381.1" width="1.2" height="6.4" fill="#0000b2"/>
<rect x="230.1" y="381.1" width="1.2" height="6.4" fill="#0000b2"/>
<rect x="239.2" y="381.1" width="1.2" height="6.4" fill="#0000b2"/>
<rect x="241.5" y="381.1" width="1.2" height="6.4" fill="#0000b2"/>
<rect x="243.9" y="381.1" width="1.2" height="6.4" fill="#0000b2"/>
<rect x="247.2" y="381.1" width="1.2" height="6.4" fill="#0000b2"/>
<rect x="269" y="381.1" width="1.2" height="6.4" fill="#0000b2"/>
<rect x="274.7" y="381.1" width="1.2" height="6.4" fill="#0000b2"/>
<rect x="327.8" y="381.1" width="1.2" height="6.4" fill="#0000b2"/>
<rect x="367.4" y="381.1" width="1.2" height="6.4" fill="#0000b2"/>
<rect x="401.4" y="381.1" width="1.2" height="6.4" fill="#0000b2"/>
<rect x="422.4" y="381.1" width="1.2" height="6.4" fill="#0000b2"/>
<rect x="449.9" y="381.1" width="1.2" height="6.4" fill="#0000b2"/>
<rect x="468.9" y="381.1" width="1.2" height="6.4" fill="#0000b2"/>
<rect x="473.4" y="381.1" width="1.2" height="6.4" fill="#0000b2"/>
<rect x="501.4" y="381.1" width="1.2" height="6.4" fill="#0000b2"/>
<rect x="507.4" y="381.1" width="1.2" height="6.4" fill="#0000b2"/>
<rect x="512.4" y="381.1" width="1.2" height="6.4" fill="#0000b2"/>
<rect x="514.9" y="381.1" width="1.2" height="6.4" fill="#0000b2"/>
<rect x="517.4" y="381.1" width="1.2" height="6.4" fill="#0000b2"/>
<rect x="524.9" y="381.1" width="1.2" height="6.4" fill="#0000b2"/>
<rect x="534.9" y="381.1" width="1.2" height="6.4" fill="#0000b2"/>
<rect x="564.9" y="381.1" width="1.2" height="6.4" fill="#0000b2"/>
<rect x="590" y="381.1" width="1.6" height="6.4" fill="#0000b2"/>
<path d="M30.2 382.6l1.6 1.7l-1.6 1.7M48.4 382.6l1.6 1.7l-1.6 1.7M66.6 382.6l1.6 1.7l-1.6 1.7M84.8 382.6l1.6 1.7l-1.6 1.7M103 382.6l1.6 1.7l-1.6 1.7M121.2 382.6l1.6 1.7l-1.6 1.7M139.4 382.6l1.6 1.7l-1.6 1.7M157.6 382.6l1.6 1.7l-1.6 1.7M175.8 382.6l1.6 1.7l-1.6 1.7M194 382.6l1.6 1.7l-1.6 1.7M212.2 382.6l1.6 1.7l-1.6 1.7M230.4 382.6l1.6 1.7l-1.6 1.7M248.6 382.6l1.6 1.7l-1.6 1.7M266.8 382.6l1.6 1.7l-1.6 1.7M285 382.6l1.6 1.7l-1.6 1.7M303.2 382.6l1.6 1.7l-1.6 1.7M321.4 382.6l1.6 1.7l-1.6 1.7M339.6 382.6l1.6 1.7l-1.6 1.7M357.8 382.6l1.6 1.7l-1.6 1.7M376 382.6l1.6 1.7l-1.6 1.7M394.2 382.6l1.6 1.7l-1.6 1.7M412.4 382.6l1.6 1.7l-1.6 1.7M430.6 382.6l1.6 1.7l-1.6 1.7M448.8 382.6l1.6 1.7l-1.6 1.7M467 382.6l1.6 1.7l-1.6 1.7M485.2 382.6l1.6 1.7l-1.6 1.7M503.4 382.6l1.6 1.7l-1.6 1.7M521.6 382.6l1.6 1.7l-1.6 1.7M539.8 382.6l1.6 1.7l-1.6 1.7M558 382.6l1.6 1.7l-1.6 1.7M576.2 382.6l1.6 1.7l-1.6 1.7" fill="none" stroke="#5656dc" stroke-width="0.6"/>
<text transform="translate(236 396.1)" font-size="8" textLength="93.8" lengthAdjust="spacing">chr4:98062517-98386294</text>
<rect x="21.6" y="406.4" width="570" height="46.2" fill="#fafafa"/>
<path d="M22.1 452.6V451.41H22.9V450.96H23.7V450.38H24.5V450.87H25.3V449.28H26.1V450.92H26.9V450.99H27.7V450.99H28.5V450H29.3V450.8H30.1V451.03H30.9V450.99H31.7V451.63H32.5V451.87H33.3V452.18H34.1V452.19H34.9V452.3H35.7V452.16H36.5V452.3H37.3V449.65H38.1V452.07H38.9V452.21H39.7V452.04H40.5V452.17H41.3V452.3H42.1V452.3H42.9V452.09H43.7V452.25H44.5V451.76H45.3V451.25H46.1V451.57H46.9V451.46H47.7V450.56H48.5V450.27H49.3V450.45H50.1V451.07H50.9V450.41H51.7V450.94H52.5V448.93H53.3V450.45H54.1V450.45H54.9V449.26H55.7V449.02H56.5V448.62H57.3V450.89H58.1V450.23H58.9V446.99H59.7V450.9H60.5V451.42H61.3V451.65H62.1V451.82H62.9V451.59H63.7V451.52H64.5V452.12H65.3V451.94H66.1V451.97H66.9V451.43H67.7V451.38H68.5V451.99H69.3V450.33H70.1V451.77H70.9V451.85H71.7V451.43H72.5V451.37H73.3V452.07H74.1V451.33H74.9V451.6H75.7V451.56H76.5V451.82H77.3V450.56H78.1V450.44H78.9V448.72H79.7V450.09H80.5V450.69H81.3V451.06H82.1V451.03H82.9V451.43H83.7V450.97H84.5V450.77H85.3V451.59H86.1V450.92H86.9V451.75H87.7V451.72H88.5V451.45H89.3V451.21H90.1V451.39H90.9V451.25H91.7V451.31H92.5V450.72H93.3V451.08H94.1V449.83H94.9V450.86H95.7V450.55H96.5V449.99H97.3V449.67H98.1V450.24H98.9V451.4H99.7V450.78H100.5V451H101.3V449.99H102.1V449.88H102.9V450.21H103.7V450.11H104.5V449.62H105.3V450.71H106.1V451.12H106.9V450.45H107.7V451.22H108.5V450.45H109.3V450.29H110.1V450.91H110.9V449.77H111.7V449.94H112.5V449.65H113.3V450.15H114.1V450.04H114.9V450.91H115.7V449.8H116.5V451.01H117.3V449.49H118.1V450.05H118.9V448.42H119.7V450.91H120.5V450.34H121.3V450.72H122.1V450.08H122.9V450.42H123.7V448.68H124.5V450.94H125.3V450.44H126.1V449.78H126.9V450.24H127.7V449.46H128.5V449.26H129.3V451.21H130.1V450.37H130.9V450.37H131.7V450.48H132.5V449.75H133.3V450.93H134.1V450.78H134.9V449.23H135.7V449.35H136.5V451.23H137.3V448.92H138.1V449.97H138.9V448.15H139.7V451.15H140.5V451H141.3V450.54H142.1V450.34H142.9V450.47H143.7V450.14H144.5V451.26H145.3V449.13H146.1V449.62H146.9V449.37H147.7V450.71H148.5V448.82H149.3V449.41H150.1V449.14H150.9V449.1H151.7V448.32H152.5V450.98H153.3V449.9H154.1V450.24H154.9V451.15H155.7V449.69H156.5V449.75H157.3V450.94H158.1V451.13H158.9V450.74H159.7V449.34H160.5V451.19H161.3V448.28H162.1V449.08H162.9V449.08H163.7V450.66H164.5V450.82H165.3V450.6H166.1V449.74H166.9V448.73H167.7V449.42H168.5V449.24H169.3V450.78H170.1V450.17H170.9V451.05H171.7V449.9H172.5V450.57H173.3V449.19H174.1V448.91H174.9V450.92H175.7V450.34H176.5V451.5H177.3V449.65H178.1V450.13H178.9V448.84H179.7V448.85H180.5V451.09H181.3V450.07H182.1V448.77H182.9V450.53H183.7V450.34H184.5V448.67H185.3V449.23H186.1V449.25H186.9V448.61H187.7V448.83H188.5V449.2H189.3V449.82H190.1V450.37H190.9V449.8H191.7V449.82H192.5V448.78H193.3V449.41H194.1V451.2H194.9V450.38H195.7V450.86H196.5V450.33H197.3V448.66H198.1V451.17H198.9V450.6H199.7V450.42H200.5V451.83H201.3V451.73H202.1V451.05H202.9V451.72H203.7V451.49H204.5V451.2H205.3V451.64H206.1V450.9H206.9V449.94H207.7V450.78H208.5V451.18H209.3V451.72H210.1V451.43H210.9V451.62H211.7V451.07H212.5V449.77H213.3V450.8H214.1V451.11H214.9V450.73H215.7V450.86H216.5V450.5H217.3V450.31H218.1V449.88H218.9V451.5H219.7V451.54H220.5V451.41H221.3V451.5H222.1V450.93H222.9V451.57H223.7V450.77H224.5V450.29H225.3V450.83H226.1V450.28H226.9V450.56H227.7V451.72H228.5V451.54H229.3V451.66H230.1V449.14H230.9V451.79H231.7V451.08H232.5V450.99H233.3V450.71H234.1V450.63H234.9V451.57H235.7V450.57H236.5V451.77H237.3V451.55H238.1V450.51H238.9V451.8H239.7V451.15H240.5V451.13H241.3V451.51H242.1V450.42H242.9V450.47H243.7V451.33H244.5V451.47H245.3V451.03H246.1V450.16H246.9V451.29H247.7V451.26H248.5V449.82H249.3V451.2H250.1V450.73H250.9V449.86H251.7V449.7H252.5V449.37H253.3V448.94H254.1V449.98H254.9V449.68H255.7V450.91H256.5V450.58H257.3V451.72H258.1V451.57H258.9V451.49H259.7V450.88H260.5V450.95H261.3V448.66H262.1V450.83H262.9V450.48H263.7V451.22H264.5V451.24H265.3V451.49H266.1V450.89H266.9V451.5H267.7V451.76H268.5V451.22H269.3V450.49H270.1V450.82H270.9V448.65H271.7V451.29H272.5V450.63H273.3V450.82H274.1V450.73H274.9V450.65H275.7V450.57H276.5V451.78H277.3V451.42H278.1V449.45H278.9V450.94H279.7V450.78H280.5V451.51H281.3V451.41H282.1V451.85H282.9V451.8H283.7V451.59H284.5V451.5H285.3V450.78H286.1V450.99H286.9V451.58H287.7V451.75H288.5V450.96H289.3V451.58H290.1V451.15H290.9V451.12H291.7V451.56H292.5V451.18H293.3V450.88H294.1V449.85H294.9V450.91H295.7V450.79H296.5V449.67H297.3V449.25H298.1V450.65H298.9V449.05H299.7V449.11H300.5V450.71H301.3V449.75H302.1V449.57H302.9V451H303.7V450.51H304.5V450.84H305.3V451.02H306.1V450.07H306.9V449.52H307.7V447.05H308.5V448.15H309.3V448.29H310.1V451.01H310.9V449.71H311.7V451.38H312.5V451.38H313.3V450.95H314.1V451.26H314.9V449.87H315.7V450.43H316.5V450.82H317.3V449.9H318.1V449.43H318.9V450.72H319.7V450.46H320.5V449.66H321.3V449.89H322.1V450.57H322.9V447.57H323.7V449.58H324.5V449.69H325.3V450.69H326.1V450.66H326.9V449.58H327.7V449.63H328.5V449.56H329.3V449.96H330.1V450.93H330.9V449.74H331.7V450.77H332.5V449.74H333.3V451.17H334.1V450.08H334.9V448.86H335.7V448.08H336.5V449.99H337.3V450.38H338.1V450.08H338.9V450.27H339.7V448.43H340.5V448.95H341.3V448.14H342.1V448.23H342.9V448.83H343.7V449.95H344.5V450.51H345.3V448.48H346.1V446.3H346.9V449.13H347.7V449.04H348.5V450.58H349.3V450.59H350.1V450.04H350.9V448.76H351.7V450.31H352.5V449.75H353.3V450.79H354.1V449.71H354.9V448.81H355.7V448.92H356.5V448.52H357.3V448.84H358.1V448.76H358.9V449.53H359.7V449.61H360.5V450.07H361.3V449.17H362.1V449.23H362.9V449.83H363.7V448.83H364.5V449.3H365.3V449.33H366.1V448.78H366.9V450.02H367.7V448.68H368.5V448.8H369.3V448.4H370.1V450.31H370.9V449.86H371.7V450.55H372.5V449.23H373.3V449.43H374.1V447.84H374.9V448.95H375.7V450.59H376.5V449.55H377.3V449.71H378.1V450.34H378.9V450.8H379.7V449.7H380.5V449.55H381.3V449.07H382.1V447.82H382.9V448.13H383.7V448.68H384.5V449.09H385.3V450.46H386.1V450.74H386.9V449.25H387.7V449.72H388.5V448.8H389.3V449.6H390.1V450H390.9V449.67H391.7V449.95H392.5V450.32H393.3V451.44H394.1V451.13H394.9V450.19H395.7V449.8H396.5V451.39H397.3V451.2H398.1V450.84H398.9V450.16H399.7V451.48H400.5V451.51H401.3V451.35H402.1V450.42H402.9V450.89H403.7V450.83H404.5V449.75H405.3V451.23H406.1V450.9H406.9V447.42H407.7V449.66H408.5V449.59H409.3V448.71H410.1V449.7H410.9V450.15H411.7V448.32H412.5V449.51H413.3V448.52H414.1V447.8H414.9V449.82H415.7V447.96H416.5V448.22H417.3V449.81H418.1V448.89H418.9V449.27H419.7V450.56H420.5V450.35H421.3V447.95H422.1V447.87H422.9V450.49H423.7V449.26H424.5V448.31H425.3V449.38H426.1V450.49H426.9V448.83H427.7V449.76H428.5V450.05H429.3V448.81H430.1V450.44H430.9V448.66H431.7V448.31H432.5V445.62H433.3V445.8H434.1V448.4H434.9V447.7H435.7V448.08H436.5V449.12H437.3V447.71H438.1V449.94H438.9V447.78H439.7V448.23H440.5V447.95H441.3V447.93H442.1V449.89H442.9V447.4H443.7V448.35H444.5V450.11H445.3V449H446.1V448.79H446.9V450.13H447.7V447.4H448.5V448.69H449.3V448.81H450.1V451.31H450.9V450.48H451.7V450.86H452.5V450.52H453.3V450.86H454.1V449.72H454.9V449.2H455.7V450.59H456.5V450.28H457.3V449.67H458.1V449.6H458.9V450.95H459.7V449.17H460.5V451.25H461.3V449.34H462.1V450.66H462.9V450.53H463.7V449.65H464.5V448.99H465.3V450.65H466.1V449.74H466.9V448.96H467.7V450.91H468.5V450.45H469.3V450.95H470.1V449.95H470.9V450.45H471.7V450.9H472.5V451.64H473.3V451.96H474.1V452.19H474.9V452.03H475.7V451.8H476.5V451.9H477.3V452.1H478.1V451.99H478.9V451.77H479.7V451.82H480.5V451.73H481.3V451.61H482.1V451.48H482.9V451.64H483.7V451.86H484.5V451.53H485.3V451.55H486.1V452.03H486.9V451.64H487.7V450.2H488.5V450.67H489.3V450.61H490.1V451.58H490.9V450.17H491.7V450.85H492.5V450.81H493.3V450.04H494.1V451.38H494.9V450.4H495.7V447.28H496.5V451.38H497.3V450.42H498.1V451H498.9V449.92H499.7V451.22H500.5V451.82H501.3V451.86H502.1V450.19H502.9V450.85H503.7V451.07H504.5V450.84H505.3V451.28H506.1V451.37H506.9V451.32H507.7V451.59H508.5V451.4H509.3V451.25H510.1V451.02H510.9V451.58H511.7V451.4H512.5V450.96H513.3V450.91H514.1V451.39H514.9V450.85H515.7V451.53H516.5V450.92H517.3V451.45H518.1V451.78H518.9V450.87H519.7V451.48H520.5V449.03H521.3V450.29H522.1V448.53H522.9V449.78H523.7V448.24H524.5V450.19H525.3V450.03H526.1V449.73H526.9V449.86H527.7V449.65H528.5V448.32H529.3V450.89H530.1V449.91H530.9V447.85H531.7V449.99H532.5V448.09H533.3V449.09H534.1V450.05H534.9V451.15H535.7V450.51H536.5V451.14H537.3V449.53H538.1V447.8H538.9V450.77H539.7V449.18H540.5V450.84H541.3V449.46H542.1V449.53H542.9V449.62H543.7V451.11H544.5V451.3H545.3V450.2H546.1V449.53H546.9V450.81H547.7V450.31H548.5V449.04H549.3V449.67H550.1V450.98H550.9V450.9H551.7V450.35H552.5V450.31H553.3V450.24H554.1V449.45H554.9V450.09H555.7V449.94H556.5V447.72H557.3V449.32H558.1V449.86H558.9V449.38H559.7V449.37H560.5V450.62H561.3V449.56H562.1V449.34H562.9V449.13H563.7V448.81H564.5V449.73H565.3V448.8H566.1V448.13H566.9V450.63H567.7V445.53H568.5V446.05H569.3V444.55H570.1V445.99H570.9V445.76H571.7V446.49H572.5V449.92H573.3V450.65H574.1V449.22H574.9V450.27H575.7V449.11H576.5V450.73H577.3V449.94H578.1V450.9H578.9V449.32H579.7V448.87H580.5V449.15H581.3V450.2H582.1V448.78H582.9V447.24H583.7V448.91H584.5V450.25H585.3V450.07H586.1V448.7H586.9V449.02H587.7V450.15H588.5V448.48H589.3V448.64H590.1V450.63H590.9V447.69H591.6V452.6Z" fill="#0000b2"/>
<rect x="24.45" y="435.6" width="1.15" height="17" fill="#0000b2"/>
<rect x="25.95" y="440.6" width="1.15" height="12" fill="#0000b2"/>
<rect x="27.45" y="432.6" width="1.15" height="20" fill="#0000b2"/>
<rect x="46.95" y="445.6" width="1.15" height="7" fill="#0000b2"/>
<rect x="49.45" y="445.6" width="1.15" height="7" fill="#0000b2"/>
<rect x="53.45" y="432.6" width="1.15" height="20" fill="#0000b2"/>
<rect x="63.45" y="431.6" width="1.15" height="21" fill="#0000b2"/>
<rect x="71.95" y="443.6" width="1.15" height="9" fill="#0000b2"/>
<rect x="87.95" y="444.6" width="1.15" height="8" fill="#0000b2"/>
<rect x="92.45" y="441.6" width="1.15" height="11" fill="#0000b2"/>
<rect x="94.95" y="437.6" width="1.15" height="15" fill="#0000b2"/>
<rect x="110.45" y="427.6" width="1.15" height="25" fill="#0000b2"/>
<rect x="119.45" y="443.6" width="1.15" height="9" fill="#0000b2"/>
<rect x="147.45" y="431.6" width="1.15" height="21" fill="#0000b2"/>
<rect x="164.45" y="440.6" width="1.15" height="12" fill="#0000b2"/>
<rect x="190.95" y="443.6" width="1.15" height="9" fill="#0000b2"/>
<rect x="194.45" y="440.6" width="1.15" height="12" fill="#0000b2"/>
<rect x="204.45" y="443.6" width="1.15" height="9" fill="#0000b2"/>
<rect x="207.95" y="430.6" width="1.15" height="22" fill="#0000b2"/>
<rect x="305.45" y="424.6" width="1.15" height="28" fill="#0000b2"/>
<rect x="307.95" y="442.6" width="1.15" height="10" fill="#0000b2"/>
<rect x="319.45" y="445.6" width="1.15" height="7" fill="#0000b2"/>
<rect x="323.45" y="439.6" width="1.15" height="13" fill="#0000b2"/>
<rect x="329.45" y="437.6" width="1.15" height="15" fill="#0000b2"/>
<rect x="335.45" y="442.6" width="1.15" height="10" fill="#0000b2"/>
<rect x="343.95" y="427.6" width="1.15" height="25" fill="#0000b2"/>
<rect x="349.95" y="437.6" width="1.15" height="15" fill="#0000b2"/>
<rect x="352.45" y="435.6" width="1.15" height="17" fill="#0000b2"/>
<rect x="355.95" y="432.6" width="1.15" height="20" fill="#0000b2"/>
<rect x="358.95" y="434.6" width="1.15" height="18" fill="#0000b2"/>
<rect x="361.45" y="425.6" width="1.15" height="27" fill="#0000b2"/>
<rect x="363.45" y="431.6" width="1.15" height="21" fill="#0000b2"/>
<rect x="365.95" y="427.6" width="1.15" height="25" fill="#0000b2"/>
<rect x="374.95" y="430.6" width="1.15" height="22" fill="#0000b2"/>
<rect x="377.45" y="434.6" width="1.15" height="18" fill="#0000b2"/>
<rect x="379.95" y="436.6" width="1.15" height="16" fill="#0000b2"/>
<rect x="382.45" y="434.6" width="1.15" height="18" fill="#0000b2"/>
<rect x="385.95" y="427.6" width="1.15" height="25" fill="#0000b2"/>
<rect x="388.45" y="430.6" width="1.15" height="22" fill="#0000b2"/>
<rect x="391.45" y="431.6" width="1.15" height="21" fill="#0000b2"/>
<rect x="397.45" y="439.6" width="1.15" height="13" fill="#0000b2"/>
<rect x="411.45" y="427.6" width="1.15" height="25" fill="#0000b2"/>
<rect x="412.95" y="407.6" width="1.15" height="45" fill="#0000b2"/>
<rect x="414.95" y="416.6" width="1.15" height="36" fill="#0000b2"/>
<rect x="417.45" y="429.6" width="1.15" height="23" fill="#0000b2"/>
<rect x="423.45" y="441.6" width="1.15" height="11" fill="#0000b2"/>
<rect x="429.95" y="431.6" width="1.15" height="21" fill="#0000b2"/>
<rect x="432.45" y="422.6" width="1.15" height="30" fill="#0000b2"/>
<rect x="433.95" y="440.6" width="1.15" height="12" fill="#0000b2"/>
<rect x="440.95" y="432.6" width="1.15" height="20" fill="#0000b2"/>
<rect x="442.45" y="439.6" width="1.15" height="13" fill="#0000b2"/>
<rect x="445.95" y="411.6" width="1.15" height="41" fill="#0000b2"/>
<rect x="448.45" y="437.6" width="1.15" height="15" fill="#0000b2"/>
<rect x="451.45" y="417.6" width="1.15" height="35" fill="#0000b2"/>
<rect x="453.45" y="426.6" width="1.15" height="26" fill="#0000b2"/>
<rect x="456.45" y="427.6" width="1.15" height="25" fill="#0000b2"/>
<rect x="459.95" y="434.6" width="1.15" height="18" fill="#0000b2"/>
<rect x="461.45" y="436.6" width="1.15" height="16" fill="#0000b2"/>
<rect x="477.45" y="445.6" width="1.15" height="7" fill="#0000b2"/>
<rect x="590.45" y="407.6" width="1.15" height="45" fill="#0000b2"/>
<line x1="21.6" y1="402.4" x2="21.6" y2="453.6" stroke="#000" stroke-width="1.4" />
<line x1="17" y1="405.3" x2="21.6" y2="405.3" stroke="#000" stroke-width="1.3" />
<line x1="20.9" y1="452.9" x2="591.6" y2="452.9" stroke="#000" stroke-width="1.5" />
<text transform="translate(14.2 407.9)" font-size="7.2" text-anchor="end">80</text>
<rect x="21.6" y="456.2" width="570" height="13" fill="#fafafa"/>
<line x1="21.6" y1="455.7" x2="591.6" y2="455.7" stroke="#b8b8b8" stroke-width="1.3" />
<text transform="translate(277 418.6)" font-size="13.2" font-weight="bold" font-style="italic" textLength="27.6" lengthAdjust="spacing">Utrn</text>
<text transform="translate(320.4 418.4)" font-size="10.6" textLength="51.6" lengthAdjust="spacing">GSI = 3.71</text>
<line x1="24" y1="462.2" x2="591.4" y2="462.2" stroke="#3a3ad8" stroke-width="0.8" />
<rect x="24.6" y="459.6" width="4.6" height="5.2" fill="#0000b2"/>
<rect x="47" y="459" width="1.1" height="6.4" fill="#0000b2"/>
<rect x="49.5" y="459" width="1.1" height="6.4" fill="#0000b2"/>
<rect x="53.5" y="459" width="1.1" height="6.4" fill="#0000b2"/>
<rect x="58.5" y="459" width="1.1" height="6.4" fill="#0000b2"/>
<rect x="63.5" y="459" width="1.1" height="6.4" fill="#0000b2"/>
<rect x="72" y="459" width="1.1" height="6.4" fill="#0000b2"/>
<rect x="88" y="459" width="1.1" height="6.4" fill="#0000b2"/>
<rect x="92.5" y="459" width="1.1" height="6.4" fill="#0000b2"/>
<rect x="95" y="459" width="1.1" height="6.4" fill="#0000b2"/>
<rect x="102" y="459" width="1.1" height="6.4" fill="#0000b2"/>
<rect x="110.5" y="459" width="1.1" height="6.4" fill="#0000b2"/>
<rect x="117.5" y="459" width="1.1" height="6.4" fill="#0000b2"/>
<rect x="120.5" y="459" width="1.1" height="6.4" fill="#0000b2"/>
<rect x="134.5" y="459" width="1.1" height="6.4" fill="#0000b2"/>
<rect x="138.5" y="459" width="1.1" height="6.4" fill="#0000b2"/>
<rect x="142" y="459" width="1.1" height="6.4" fill="#0000b2"/>
<rect x="147.5" y="459" width="1.1" height="6.4" fill="#0000b2"/>
<rect x="164.5" y="459" width="1.1" height="6.4" fill="#0000b2"/>
<rect x="172" y="459" width="1.1" height="6.4" fill="#0000b2"/>
<rect x="194.5" y="459" width="1.1" height="6.4" fill="#0000b2"/>
<rect x="204.5" y="459" width="1.1" height="6.4" fill="#0000b2"/>
<rect x="208" y="459" width="1.1" height="6.4" fill="#0000b2"/>
<rect x="305.5" y="459" width="1.1" height="6.4" fill="#0000b2"/>
<rect x="319.5" y="459" width="1.1" height="6.4" fill="#0000b2"/>
<rect x="323.5" y="459" width="1.1" height="6.4" fill="#0000b2"/>
<rect x="327" y="459" width="1.1" height="6.4" fill="#0000b2"/>
<rect x="330.5" y="459" width="1.1" height="6.4" fill="#0000b2"/>
<rect x="335.5" y="459" width="1.1" height="6.4" fill="#0000b2"/>
<rect x="344" y="459" width="1.1" height="6.4" fill="#0000b2"/>
<rect x="346.5" y="459" width="1.1" height="6.4" fill="#0000b2"/>
<rect x="348.5" y="459" width="1.1" height="6.4" fill="#0000b2"/>
<rect x="350.5" y="459" width="1.1" height="6.4" fill="#0000b2"/>
<rect x="352.5" y="459" width="1.1" height="6.4" fill="#0000b2"/>
<rect x="354.5" y="459" width="1.1" height="6.4" fill="#0000b2"/>
<rect x="356.5" y="459" width="1.1" height="6.4" fill="#0000b2"/>
<rect x="358.5" y="459" width="1.1" height="6.4" fill="#0000b2"/>
<rect x="360.5" y="459" width="1.1" height="6.4" fill="#0000b2"/>
<rect x="362.5" y="459" width="1.1" height="6.4" fill="#0000b2"/>
<rect x="364.5" y="459" width="1.1" height="6.4" fill="#0000b2"/>
<rect x="366.5" y="459" width="1.1" height="6.4" fill="#0000b2"/>
<rect x="375" y="459" width="1.1" height="6.4" fill="#0000b2"/>
<rect x="377" y="459" width="1.1" height="6.4" fill="#0000b2"/>
<rect x="379" y="459" width="1.1" height="6.4" fill="#0000b2"/>
<rect x="381" y="459" width="1.1" height="6.4" fill="#0000b2"/>
<rect x="383" y="459" width="1.1" height="6.4" fill="#0000b2"/>
<rect x="385.5" y="459" width="1.1" height="6.4" fill="#0000b2"/>
<rect x="388" y="459" width="1.1" height="6.4" fill="#0000b2"/>
<rect x="390.5" y="459" width="1.1" height="6.4" fill="#0000b2"/>
<rect x="397.5" y="459" width="1.1" height="6.4" fill="#0000b2"/>
<rect x="411.5" y="459" width="1.1" height="6.4" fill="#0000b2"/>
<rect x="413.5" y="459" width="1.1" height="6.4" fill="#0000b2"/>
<rect x="415.5" y="459" width="1.1" height="6.4" fill="#0000b2"/>
<rect x="417.5" y="459" width="1.1" height="6.4" fill="#0000b2"/>
<rect x="423.5" y="459" width="1.1" height="6.4" fill="#0000b2"/>
<rect x="430" y="459" width="1.1" height="6.4" fill="#0000b2"/>
<rect x="432.5" y="459" width="1.1" height="6.4" fill="#0000b2"/>
<rect x="434.5" y="459" width="1.1" height="6.4" fill="#0000b2"/>
<rect x="441" y="459" width="1.1" height="6.4" fill="#0000b2"/>
<rect x="443" y="459" width="1.1" height="6.4" fill="#0000b2"/>
<rect x="445.5" y="459" width="1.1" height="6.4" fill="#0000b2"/>
<rect x="447.5" y="459" width="1.1" height="6.4" fill="#0000b2"/>
<rect x="451.5" y="459" width="1.1" height="6.4" fill="#0000b2"/>
<rect x="453.5" y="459" width="1.1" height="6.4" fill="#0000b2"/>
<rect x="455.5" y="459" width="1.1" height="6.4" fill="#0000b2"/>
<rect x="457.5" y="459" width="1.1" height="6.4" fill="#0000b2"/>
<rect x="460" y="459" width="1.1" height="6.4" fill="#0000b2"/>
<rect x="462" y="459" width="1.1" height="6.4" fill="#0000b2"/>
<rect x="477.5" y="459" width="1.1" height="6.4" fill="#0000b2"/>
<rect x="590.6" y="459" width="1" height="6.4" fill="#0000b2"/>
<path d="M34.8 460.5l-1.6 1.7l1.6 1.7M47.9 460.5l-1.6 1.7l1.6 1.7M61 460.5l-1.6 1.7l1.6 1.7M74.1 460.5l-1.6 1.7l1.6 1.7M87.2 460.5l-1.6 1.7l1.6 1.7M100.3 460.5l-1.6 1.7l1.6 1.7M113.4 460.5l-1.6 1.7l1.6 1.7M126.5 460.5l-1.6 1.7l1.6 1.7M139.6 460.5l-1.6 1.7l1.6 1.7M152.7 460.5l-1.6 1.7l1.6 1.7M165.8 460.5l-1.6 1.7l1.6 1.7M178.9 460.5l-1.6 1.7l1.6 1.7M192 460.5l-1.6 1.7l1.6 1.7M205.1 460.5l-1.6 1.7l1.6 1.7M218.2 460.5l-1.6 1.7l1.6 1.7M231.3 460.5l-1.6 1.7l1.6 1.7M244.4 460.5l-1.6 1.7l1.6 1.7M257.5 460.5l-1.6 1.7l1.6 1.7M270.6 460.5l-1.6 1.7l1.6 1.7M283.7 460.5l-1.6 1.7l1.6 1.7M296.8 460.5l-1.6 1.7l1.6 1.7M309.9 460.5l-1.6 1.7l1.6 1.7M323 460.5l-1.6 1.7l1.6 1.7M336.1 460.5l-1.6 1.7l1.6 1.7M349.2 460.5l-1.6 1.7l1.6 1.7M362.3 460.5l-1.6 1.7l1.6 1.7M375.4 460.5l-1.6 1.7l1.6 1.7M388.5 460.5l-1.6 1.7l1.6 1.7M401.6 460.5l-1.6 1.7l1.6 1.7M414.7 460.5l-1.6 1.7l1.6 1.7M427.8 460.5l-1.6 1.7l1.6 1.7M440.9 460.5l-1.6 1.7l1.6 1.7M454 460.5l-1.6 1.7l1.6 1.7M467.1 460.5l-1.6 1.7l1.6 1.7M480.2 460.5l-1.6 1.7l1.6 1.7M493.3 460.5l-1.6 1.7l1.6 1.7M506.4 460.5l-1.6 1.7l1.6 1.7M519.5 460.5l-1.6 1.7l1.6 1.7M532.6 460.5l-1.6 1.7l1.6 1.7M545.7 460.5l-1.6 1.7l1.6 1.7M558.8 460.5l-1.6 1.7l1.6 1.7M571.9 460.5l-1.6 1.7l1.6 1.7M585 460.5l-1.6 1.7l1.6 1.7" fill="none" stroke="#5656dc" stroke-width="0.6"/>
<text transform="translate(240.2 477.6)" font-size="8" textLength="98.8" lengthAdjust="spacing">chr10:12101986-12581533</text>
<text transform="translate(135.8 520)" font-size="13.2" text-anchor="middle" font-weight="bold" font-style="italic">Id3</text>
<line x1="107.8" y1="551.5" x2="181.4" y2="551.5" stroke="#5757f8" stroke-width="3.6" />
<rect x="77.4" y="542.9" width="30.4" height="17.3" fill="#0d9863" stroke="#000" stroke-width="1.3"/>
<text transform="translate(87.3 554.15)" font-size="11.5" fill="#fff">e<tspan font-size="7.5" dy="2">1</tspan></text>
<rect x="122.9" y="542.9" width="30.7" height="17.3" fill="#0d9863" stroke="#000" stroke-width="1.3"/>
<text transform="translate(132.95 554.15)" font-size="11.5" fill="#fff">e<tspan font-size="7.5" dy="2">2</tspan></text>
<line x1="93.8" y1="539.6" x2="103.2" y2="539.6" stroke="#000" stroke-width="1.4" />
<path d="M105.6 539.6l-7 -3.4l2.3 3.4l-2.3 3.4z" fill="#000"/>
<text transform="translate(97.7 535.8)" font-size="8.4" text-anchor="middle">1</text>
<line x1="156.2" y1="545.1" x2="165.1" y2="545.1" stroke="#000" stroke-width="1.4" />
<path d="M167.5 545.1l-7 -3.4l2.3 3.4l-2.3 3.4z" fill="#000"/>
<text transform="translate(160 540.7)" font-size="8.4" text-anchor="middle">3</text>
<line x1="139.8" y1="563.9" x2="130.4" y2="563.9" stroke="#000" stroke-width="1.4" />
<path d="M128 563.9l7 -3.4l-2.3 3.4l2.3 3.4z" fill="#000"/>
<text transform="translate(137.6 572.6)" font-size="8.4" text-anchor="middle">2</text>
<line x1="181.4" y1="556.9" x2="172.9" y2="556.9" stroke="#000" stroke-width="1.4" />
<path d="M170.5 556.9l7 -3.4l-2.3 3.4l2.3 3.4z" fill="#000"/>
<text transform="translate(181 566.5)" font-size="8.4" text-anchor="middle">4</text>
<line x1="114.9" y1="680.1" x2="114.9" y2="685.4" stroke="#000" stroke-width="1.1" />
<line x1="108.7" y1="680.1" x2="121.2" y2="680.1" stroke="#000" stroke-width="1.1" />
<rect x="102.1" y="685.4" width="25.6" height="9" fill="#0d9863" stroke="#000" stroke-width="1.1"/>
<line x1="153.45" y1="613.8" x2="153.45" y2="629.6" stroke="#000" stroke-width="1.1" />
<line x1="147.4" y1="613.8" x2="159.5" y2="613.8" stroke="#000" stroke-width="1.1" />
<rect x="140.9" y="629.6" width="25.1" height="64.8" fill="#5757f8" stroke="#000" stroke-width="1.1"/>
<rect x="95.5" y="578.8" width="77.1" height="115.6" fill="none" stroke="#000" stroke-width="1.1"/>
<line x1="90.5" y1="694.4" x2="95.5" y2="694.4" stroke="#000" stroke-width="1.1" />
<text transform="translate(89.2 698.3)" font-size="11" text-anchor="end">0</text>
<line x1="90.5" y1="671.28" x2="95.5" y2="671.28" stroke="#000" stroke-width="1.1" />
<text transform="translate(89.2 675.18)" font-size="11" text-anchor="end">5</text>
<line x1="90.5" y1="648.16" x2="95.5" y2="648.16" stroke="#000" stroke-width="1.1" />
<text transform="translate(89.2 652.06)" font-size="11" text-anchor="end">10</text>
<line x1="90.5" y1="625.04" x2="95.5" y2="625.04" stroke="#000" stroke-width="1.1" />
<text transform="translate(89.2 628.94)" font-size="11" text-anchor="end">15</text>
<line x1="90.5" y1="601.92" x2="95.5" y2="601.92" stroke="#000" stroke-width="1.1" />
<text transform="translate(89.2 605.82)" font-size="11" text-anchor="end">20</text>
<line x1="90.5" y1="578.8" x2="95.5" y2="578.8" stroke="#000" stroke-width="1.1" />
<text transform="translate(89.2 582.7)" font-size="11" text-anchor="end">25</text>
<text transform="translate(64.3 642.6) rotate(-90)" font-size="11" text-anchor="middle">Pre-mRNA level</text>
<line x1="113.5" y1="592.3" x2="153.4" y2="592.3" stroke="#000" stroke-width="1.2" />
<text transform="translate(133.2 588)" font-size="8.2" text-anchor="middle">p=0.029</text>
<line x1="115" y1="694.4" x2="115" y2="699.4" stroke="#000" stroke-width="1.1" />
<text transform="translate(115 710.9)" font-size="11.6" text-anchor="middle">1-2</text>
<line x1="153.5" y1="694.4" x2="153.5" y2="699.4" stroke="#000" stroke-width="1.1" />
<text transform="translate(153.5 710.9)" font-size="11.6" text-anchor="middle">3-4</text>
<circle cx="115" cy="672.5" r="2.6" fill="#000"/>
<circle cx="115" cy="683.4" r="2.6" fill="#000"/>
<circle cx="113.5" cy="691" r="2.6" fill="#000"/>
<circle cx="116.3" cy="691.7" r="2.6" fill="#000"/>
<circle cx="153.6" cy="597.4" r="2.6" fill="#000"/>
<circle cx="153.6" cy="608.5" r="2.6" fill="#000"/>
<circle cx="152.5" cy="655.4" r="2.6" fill="#000"/>
<circle cx="155.1" cy="656.3" r="2.6" fill="#000"/>
<text transform="translate(272.7 520)" font-size="13.2" text-anchor="middle" font-weight="bold" font-style="italic">Inadl</text>
<line x1="251" y1="551" x2="288.7" y2="551" stroke="#5757f8" stroke-width="3.6" />
<rect x="220.8" y="542.3" width="30.2" height="17.3" fill="#0d9863" stroke="#000" stroke-width="1.3"/>
<text transform="translate(230.6 553.55)" font-size="11.5" fill="#fff">e<tspan font-size="7.5" dy="2">4</tspan></text>
<rect x="288.7" y="542.3" width="30.2" height="17.3" fill="#0d9863" stroke="#000" stroke-width="1.3"/>
<text transform="translate(298.5 553.55)" font-size="11.5" fill="#fff">e<tspan font-size="7.5" dy="2">5</tspan></text>
<line x1="237.2" y1="539.4" x2="246.6" y2="539.4" stroke="#000" stroke-width="1.4" />
<path d="M249 539.4l-7 -3.4l2.3 3.4l-2.3 3.4z" fill="#000"/>
<text transform="translate(241 535.4)" font-size="8.4" text-anchor="middle">1</text>
<line x1="253.2" y1="545.5" x2="262.6" y2="545.5" stroke="#000" stroke-width="1.4" />
<path d="M265 545.5l-7 -3.4l2.3 3.4l-2.3 3.4z" fill="#000"/>
<text transform="translate(257.6 541.3)" font-size="8.4" text-anchor="middle">2</text>
<line x1="283.9" y1="556.9" x2="274.9" y2="556.9" stroke="#000" stroke-width="1.4" />
<path d="M272.5 556.9l7 -3.4l-2.3 3.4l2.3 3.4z" fill="#000"/>
<text transform="translate(279.3 569.3)" font-size="8.4" text-anchor="middle">3</text>
<line x1="301.4" y1="563.5" x2="292.4" y2="563.5" stroke="#000" stroke-width="1.4" />
<path d="M290 563.5l7 -3.4l-2.3 3.4l2.3 3.4z" fill="#000"/>
<text transform="translate(301.2 572.6)" font-size="8.4" text-anchor="middle">4</text>
<line x1="255.85" y1="635.3" x2="255.85" y2="653.2" stroke="#000" stroke-width="1.1" />
<line x1="249.5" y1="635.3" x2="261.7" y2="635.3" stroke="#000" stroke-width="1.1" />
<rect x="243.4" y="653.2" width="24.9" height="41.2" fill="#0d9863" stroke="#000" stroke-width="1.1"/>
<line x1="294.35" y1="688.9" x2="294.35" y2="690.4" stroke="#000" stroke-width="1.1" />
<line x1="288.7" y1="688.9" x2="300.7" y2="688.9" stroke="#000" stroke-width="1.1" />
<rect x="282.1" y="690.4" width="24.5" height="4" fill="#5757f8" stroke="#000" stroke-width="1.1"/>
<rect x="236.6" y="578.8" width="76.8" height="115.6" fill="none" stroke="#000" stroke-width="1.1"/>
<line x1="231.6" y1="694.4" x2="236.6" y2="694.4" stroke="#000" stroke-width="1.1" />
<text transform="translate(230.3 698.3)" font-size="11" text-anchor="end">0</text>
<line x1="231.6" y1="671.28" x2="236.6" y2="671.28" stroke="#000" stroke-width="1.1" />
<text transform="translate(230.3 675.18)" font-size="11" text-anchor="end">1</text>
<line x1="231.6" y1="648.16" x2="236.6" y2="648.16" stroke="#000" stroke-width="1.1" />
<text transform="translate(230.3 652.06)" font-size="11" text-anchor="end">2</text>
<line x1="231.6" y1="625.04" x2="236.6" y2="625.04" stroke="#000" stroke-width="1.1" />
<text transform="translate(230.3 628.94)" font-size="11" text-anchor="end">3</text>
<line x1="231.6" y1="601.92" x2="236.6" y2="601.92" stroke="#000" stroke-width="1.1" />
<text transform="translate(230.3 605.82)" font-size="11" text-anchor="end">4</text>
<line x1="231.6" y1="578.8" x2="236.6" y2="578.8" stroke="#000" stroke-width="1.1" />
<text transform="translate(230.3 582.7)" font-size="11" text-anchor="end">5</text>
<text transform="translate(216 642.6) rotate(-90)" font-size="11" text-anchor="middle">Pre-mRNA level</text>
<line x1="257.4" y1="591.2" x2="297.4" y2="591.2" stroke="#000" stroke-width="1.2" />
<text transform="translate(275.5 586.9)" font-size="8.2" text-anchor="middle">p=0.029</text>
<line x1="255.6" y1="694.4" x2="255.6" y2="699.4" stroke="#000" stroke-width="1.1" />
<text transform="translate(255.6 710.9)" font-size="11.6" text-anchor="middle">1-4</text>
<line x1="294.6" y1="694.4" x2="294.6" y2="699.4" stroke="#000" stroke-width="1.1" />
<text transform="translate(294.6 710.9)" font-size="11.6" text-anchor="middle">2-3</text>
<circle cx="255.6" cy="605.7" r="2.6" fill="#000"/>
<circle cx="255.6" cy="646" r="2.6" fill="#000"/>
<circle cx="254.3" cy="679.9" r="2.6" fill="#000"/>
<circle cx="256.9" cy="680.6" r="2.6" fill="#000"/>
<circle cx="293" cy="690.6" r="2.6" fill="#000"/>
<circle cx="295.8" cy="691" r="2.6" fill="#000"/>
<path d="M294.3 683.2l3.4 5.8h-6.8z" fill="#000"/>
<path d="M293.6 686l3 5h-6z" fill="#000"/>
<text transform="translate(486.1 519.8)" font-size="13.2" text-anchor="middle" font-weight="bold" font-style="italic">Utrn</text>
<line x1="385.6" y1="550.5" x2="570.9" y2="550.5" stroke="#5757f8" stroke-width="3.6" />
<rect x="500.6" y="546" width="11.6" height="9" fill="#fff"/>
<line x1="501.6" y1="556.6" x2="506.4" y2="544.4" stroke="#000" stroke-width="0.9" />
<line x1="506.2" y1="556.6" x2="511" y2="544.4" stroke="#000" stroke-width="0.9" />
<rect x="354.9" y="542.6" width="30.7" height="16.5" fill="#0d9863" stroke="#000" stroke-width="1.3"/>
<text transform="translate(364.95 553.45)" font-size="11.5" fill="#fff">e<tspan font-size="7.5" dy="2">2</tspan></text>
<rect x="414.8" y="542.6" width="30.7" height="16.5" fill="#0d9863" stroke="#000" stroke-width="1.3"/>
<text transform="translate(424.85 553.45)" font-size="11.5" fill="#fff">e<tspan font-size="7.5" dy="2">3</tspan></text>
<rect x="461.7" y="542.6" width="30.7" height="16.5" fill="#0d9863" stroke="#000" stroke-width="1.3"/>
<text transform="translate(471.75 553.45)" font-size="11.5" fill="#fff">e<tspan font-size="7.5" dy="2">4</tspan></text>
<rect x="523.2" y="540.6" width="22" height="17.3" fill="#0d9863" stroke="#000" stroke-width="1.3"/>
<text transform="translate(526.8 551.85)" font-size="11.5" fill="#fff">e<tspan font-size="7.5" dy="2">22</tspan></text>
<rect x="570.9" y="542.6" width="31.1" height="16.5" fill="#0d9863" stroke="#000" stroke-width="1.3"/>
<text transform="translate(579.05 553.45)" font-size="11.5" fill="#fff">e<tspan font-size="7.5" dy="2">23</tspan></text>
<line x1="387.2" y1="544.1" x2="396.2" y2="544.1" stroke="#000" stroke-width="1.4" />
<path d="M398.6 544.1l-7 -3.4l2.3 3.4l-2.3 3.4z" fill="#000"/>
<text transform="translate(390.3 539.3)" font-size="8.4" text-anchor="middle">1</text>
<line x1="414.4" y1="557.9" x2="405.3" y2="557.9" stroke="#000" stroke-width="1.4" />
<path d="M402.9 557.9l7 -3.4l-2.3 3.4l2.3 3.4z" fill="#000"/>
<text transform="translate(408 569.2)" font-size="8.4" text-anchor="middle">2</text>
<line x1="431.7" y1="539" x2="440.8" y2="539" stroke="#000" stroke-width="1.4" />
<path d="M443.2 539l-7 -3.4l2.3 3.4l-2.3 3.4z" fill="#000"/>
<text transform="translate(435.7 533.7)" font-size="8.4" text-anchor="middle">3</text>
<line x1="477" y1="563.9" x2="467.2" y2="563.9" stroke="#000" stroke-width="1.4" />
<path d="M464.8 563.9l7 -3.4l-2.3 3.4l2.3 3.4z" fill="#000"/>
<text transform="translate(473.1 574.7)" font-size="8.4" text-anchor="middle">4</text>
<line x1="546" y1="544.1" x2="555" y2="544.1" stroke="#000" stroke-width="1.4" />
<path d="M557.4 544.1l-7 -3.4l2.3 3.4l-2.3 3.4z" fill="#000"/>
<text transform="translate(550 538.5)" font-size="8.4" text-anchor="middle">5</text>
<line x1="570" y1="558.3" x2="561" y2="558.3" stroke="#000" stroke-width="1.4" />
<path d="M558.6 558.3l7 -3.4l-2.3 3.4l2.3 3.4z" fill="#000"/>
<text transform="translate(566.5 570)" font-size="8.4" text-anchor="middle">6</text>
<line x1="429.85" y1="655.7" x2="429.85" y2="670.6" stroke="#000" stroke-width="1.1" />
<line x1="423.8" y1="655.7" x2="435.7" y2="655.7" stroke="#000" stroke-width="1.1" />
<rect x="418.3" y="670.6" width="23.1" height="24.2" fill="#5757f8" stroke="#000" stroke-width="1.1"/>
<line x1="466" y1="607.3" x2="466" y2="620.4" stroke="#000" stroke-width="1.1" />
<line x1="459.8" y1="607.3" x2="472.2" y2="607.3" stroke="#000" stroke-width="1.1" />
<rect x="454.6" y="620.4" width="22.8" height="74.4" fill="#0d9863" stroke="#000" stroke-width="1.1"/>
<line x1="502.15" y1="670.4" x2="502.15" y2="678.3" stroke="#000" stroke-width="1.1" />
<line x1="496.1" y1="670.4" x2="508.5" y2="670.4" stroke="#000" stroke-width="1.1" />
<rect x="490.6" y="678.3" width="23.1" height="16.5" fill="#5757f8" stroke="#000" stroke-width="1.1"/>
<rect x="411.2" y="580" width="109.6" height="114.8" fill="none" stroke="#000" stroke-width="1.1"/>
<line x1="406.2" y1="694.8" x2="411.2" y2="694.8" stroke="#000" stroke-width="1.1" />
<text transform="translate(404.9 698.7)" font-size="11" text-anchor="end">0</text>
<line x1="406.2" y1="671.84" x2="411.2" y2="671.84" stroke="#000" stroke-width="1.1" />
<text transform="translate(404.9 675.74)" font-size="11" text-anchor="end">5</text>
<line x1="406.2" y1="648.88" x2="411.2" y2="648.88" stroke="#000" stroke-width="1.1" />
<text transform="translate(404.9 652.78)" font-size="11" text-anchor="end">10</text>
<line x1="406.2" y1="625.92" x2="411.2" y2="625.92" stroke="#000" stroke-width="1.1" />
<text transform="translate(404.9 629.82)" font-size="11" text-anchor="end">15</text>
<line x1="406.2" y1="602.96" x2="411.2" y2="602.96" stroke="#000" stroke-width="1.1" />
<text transform="translate(404.9 606.86)" font-size="11" text-anchor="end">20</text>
<line x1="406.2" y1="580" x2="411.2" y2="580" stroke="#000" stroke-width="1.1" />
<text transform="translate(404.9 583.9)" font-size="11" text-anchor="end">25</text>
<text transform="translate(381.8 644.6) rotate(-90)" font-size="11" text-anchor="middle">Pre-mRNA level</text>
<line x1="420.4" y1="593.9" x2="460.6" y2="593.9" stroke="#000" stroke-width="1.2" />
<text transform="translate(442.2 589.6)" font-size="8.2" text-anchor="middle">p=0.057</text>
<line x1="469.8" y1="593.9" x2="509.8" y2="593.9" stroke="#000" stroke-width="1.2" />
<text transform="translate(490.6 589.6)" font-size="8.2" text-anchor="middle">p=0.029</text>
<line x1="429.9" y1="694.8" x2="429.9" y2="699.8" stroke="#000" stroke-width="1.1" />
<text transform="translate(429.9 711.3)" font-size="11.6" text-anchor="middle">1-2</text>
<line x1="465.9" y1="694.8" x2="465.9" y2="699.8" stroke="#000" stroke-width="1.1" />
<text transform="translate(465.9 711.3)" font-size="11.6" text-anchor="middle">3-4</text>
<line x1="502.1" y1="694.8" x2="502.1" y2="699.8" stroke="#000" stroke-width="1.1" />
<text transform="translate(502.1 711.3)" font-size="11.6" text-anchor="middle">5-6</text>
<circle cx="429.9" cy="627.5" r="2.6" fill="#000"/>
<circle cx="429.9" cy="677.7" r="2.6" fill="#000"/>
<circle cx="429.9" cy="685.1" r="2.6" fill="#000"/>
<circle cx="429.9" cy="690.6" r="2.6" fill="#000"/>
<circle cx="465.9" cy="594.7" r="2.6" fill="#000"/>
<circle cx="465.9" cy="607" r="2.6" fill="#000"/>
<circle cx="465.9" cy="624.7" r="2.6" fill="#000"/>
<circle cx="465.9" cy="653.6" r="2.6" fill="#000"/>
<circle cx="500.8" cy="689.5" r="2.6" fill="#000"/>
<circle cx="503.5" cy="689.5" r="2.6" fill="#000"/>
<circle cx="502.1" cy="659.1" r="1.9" fill="#000"/>
<circle cx="502.1" cy="674" r="1.9" fill="#000"/>
<text transform="translate(88.2 761)" font-size="11" font-weight="bold" textLength="74" lengthAdjust="spacing">GO categories</text>
<rect x="176.3" y="768.4" width="116" height="96.2" fill="none" stroke="#000" stroke-width="1.1"/>
<rect x="176.3" y="772.95" width="16.8" height="6.7" fill="#033cf9" stroke="#000" stroke-width="0.9"/>
<line x1="172.9" y1="776.3" x2="176.3" y2="776.3" stroke="#000" stroke-width="1" />
<text transform="translate(127.9 780.2)" font-size="10.4" textLength="42.3" lengthAdjust="spacingAndGlyphs" stroke="#000" stroke-width="0.22">Proteolysis</text>
<text transform="translate(196.6 780.7) scale(0.94 1)" font-size="10">107</text>
<rect x="176.3" y="784.75" width="18" height="6.7" fill="#033cf9" stroke="#000" stroke-width="0.9"/>
<line x1="172.9" y1="788.1" x2="176.3" y2="788.1" stroke="#000" stroke-width="1" />
<text transform="translate(106.7 792)" font-size="10.4" textLength="63.5" lengthAdjust="spacingAndGlyphs" stroke="#000" stroke-width="0.22">Cilium assembly</text>
<text transform="translate(199.8 792.5) scale(0.94 1)" font-size="10">27</text>
<rect x="176.3" y="796.15" width="21.5" height="6.7" fill="#033cf9" stroke="#000" stroke-width="0.9"/>
<line x1="172.9" y1="799.5" x2="176.3" y2="799.5" stroke="#000" stroke-width="1" />
<text transform="translate(123.2 803.4)" font-size="10.4" textLength="47" lengthAdjust="spacingAndGlyphs" stroke="#000" stroke-width="0.22">Endocytosis</text>
<text transform="translate(203 803.9) scale(0.94 1)" font-size="10">50</text>
<rect x="176.3" y="807.65" width="25.5" height="6.7" fill="#033cf9" stroke="#000" stroke-width="0.9"/>
<line x1="172.9" y1="811" x2="176.3" y2="811" stroke="#000" stroke-width="1" />
<text transform="translate(117.2 814.9)" font-size="10.4" textLength="53" lengthAdjust="spacingAndGlyphs" stroke="#000" stroke-width="0.22">Cell adhesion</text>
<text transform="translate(207.7 815.4) scale(0.94 1)" font-size="10">67</text>
<rect x="176.3" y="819.05" width="25.8" height="6.7" fill="#033cf9" stroke="#000" stroke-width="0.9"/>
<line x1="172.9" y1="822.4" x2="176.3" y2="822.4" stroke="#000" stroke-width="1" />
<text transform="translate(78.2 826.3)" font-size="10.4" textLength="92" lengthAdjust="spacingAndGlyphs" stroke="#000" stroke-width="0.22">Lipid metabolic process</text>
<text transform="translate(208.5 826.8) scale(0.94 1)" font-size="10">97</text>
<rect x="176.3" y="830.45" width="64.5" height="6.7" fill="#033cf9" stroke="#000" stroke-width="0.9"/>
<line x1="172.9" y1="833.8" x2="176.3" y2="833.8" stroke="#000" stroke-width="1" />
<text transform="translate(59.9 837.7)" font-size="10.4" textLength="110.3" lengthAdjust="spacingAndGlyphs" stroke="#000" stroke-width="0.22">Oxidation-reduction process</text>
<text transform="translate(245.1 838.2) scale(0.94 1)" font-size="10">105</text>
<rect x="176.3" y="841.85" width="80.2" height="6.7" fill="#033cf9" stroke="#000" stroke-width="0.9"/>
<line x1="172.9" y1="845.2" x2="176.3" y2="845.2" stroke="#000" stroke-width="1" />
<text transform="translate(132.7 849.1)" font-size="10.4" textLength="37.5" lengthAdjust="spacingAndGlyphs" stroke="#000" stroke-width="0.22">Transport</text>
<text transform="translate(262 849.6) scale(0.94 1)" font-size="10">321</text>
<rect x="176.3" y="853.75" width="83.4" height="6.7" fill="#033cf9" stroke="#000" stroke-width="0.9"/>
<line x1="172.9" y1="857.1" x2="176.3" y2="857.1" stroke="#000" stroke-width="1" />
<text transform="translate(98.7 861)" font-size="10.4" textLength="71.5" lengthAdjust="spacingAndGlyphs" stroke="#000" stroke-width="0.22">Metabolic process</text>
<text transform="translate(264.8 861.5) scale(0.94 1)" font-size="10">571</text>
<line x1="176.3" y1="864.6" x2="176.3" y2="869.2" stroke="#000" stroke-width="1.1" />
<text transform="translate(176.3 880.2)" font-size="11.3" text-anchor="middle">0</text>
<line x1="214.97" y1="864.6" x2="214.97" y2="869.2" stroke="#000" stroke-width="1.1" />
<text transform="translate(214.97 880.2)" font-size="11.3" text-anchor="middle">10</text>
<line x1="253.63" y1="864.6" x2="253.63" y2="869.2" stroke="#000" stroke-width="1.1" />
<text transform="translate(253.63 880.2)" font-size="11.3" text-anchor="middle">20</text>
<line x1="292.3" y1="864.6" x2="292.3" y2="869.2" stroke="#000" stroke-width="1.1" />
<text transform="translate(292.3 880.2)" font-size="11.3" text-anchor="middle">30</text>
<text transform="translate(229.3 892.4)" font-size="11" text-anchor="middle" font-weight="bold">-Log<tspan font-size="7.8" dy="2.5">10</tspan><tspan dy="-2.5">(p-value)</tspan></text>
<text transform="translate(303.6 816.6) rotate(-90)" font-size="11" text-anchor="middle" font-weight="bold">High GSI genes</text>
<text transform="translate(397.4 761.8)" font-size="11" font-weight="bold" textLength="74" lengthAdjust="spacing">GO categories</text>
<rect x="516.5" y="769" width="116.3" height="62.9" fill="none" stroke="#000" stroke-width="1.1"/>
<rect x="516.5" y="774.35" width="23.9" height="6.7" fill="#fc2006" stroke="#000" stroke-width="0.9"/>
<line x1="513.1" y1="777.7" x2="516.5" y2="777.7" stroke="#000" stroke-width="1" />
<text transform="translate(467.8 781.6)" font-size="10.4" textLength="43.5" lengthAdjust="spacingAndGlyphs" stroke="#000" stroke-width="0.22">Translation</text>
<text transform="translate(545.5 782.1) scale(0.94 1)" font-size="10">54</text>
<rect x="516.5" y="785.75" width="39.9" height="6.7" fill="#fc2006" stroke="#000" stroke-width="0.9"/>
<line x1="513.1" y1="789.1" x2="516.5" y2="789.1" stroke="#000" stroke-width="1" />
<text transform="translate(339.3 793)" font-size="10.4" textLength="172" lengthAdjust="spacingAndGlyphs" stroke="#000" stroke-width="0.22">Reg. of transcript. from RNA pol II promoter</text>
<text transform="translate(561.6 793.5) scale(0.94 1)" font-size="10">119</text>
<rect x="516.5" y="797.25" width="40.5" height="6.7" fill="#fc2006" stroke="#000" stroke-width="0.9"/>
<line x1="513.1" y1="800.6" x2="516.5" y2="800.6" stroke="#000" stroke-width="1" />
<text transform="translate(357.8 804.5)" font-size="10.4" textLength="153.5" lengthAdjust="spacingAndGlyphs" stroke="#000" stroke-width="0.22">Transcription from RNA pol II promoter</text>
<text transform="translate(561.6 805) scale(0.94 1)" font-size="10">116</text>
<rect x="516.5" y="809.15" width="72.6" height="6.7" fill="#fc2006" stroke="#000" stroke-width="0.9"/>
<line x1="513.1" y1="812.5" x2="516.5" y2="812.5" stroke="#000" stroke-width="1" />
<text transform="translate(393.8 816.4)" font-size="10.4" textLength="117.5" lengthAdjust="spacingAndGlyphs" stroke="#000" stroke-width="0.22">Transcription, DNA-templated</text>
<text transform="translate(594.2 816.9) scale(0.94 1)" font-size="10">208</text>
<rect x="516.5" y="820.55" width="77.2" height="6.7" fill="#fc2006" stroke="#000" stroke-width="0.9"/>
<line x1="513.1" y1="823.9" x2="516.5" y2="823.9" stroke="#000" stroke-width="1" />
<text transform="translate(374.3 827.8)" font-size="10.4" textLength="137" lengthAdjust="spacingAndGlyphs" stroke="#000" stroke-width="0.22">Reg. of transcript., DNA-templated</text>
<text transform="translate(600.5 828.3) scale(0.94 1)" font-size="10">225</text>
<line x1="516.5" y1="831.9" x2="516.5" y2="836.5" stroke="#000" stroke-width="1.1" />
<text transform="translate(516.5 847.5)" font-size="11.3" text-anchor="middle">0</text>
<line x1="539.76" y1="831.9" x2="539.76" y2="836.5" stroke="#000" stroke-width="1.1" />
<text transform="translate(539.76 847.5)" font-size="11.3" text-anchor="middle">5</text>
<line x1="563.02" y1="831.9" x2="563.02" y2="836.5" stroke="#000" stroke-width="1.1" />
<text transform="translate(563.02 847.5)" font-size="11.3" text-anchor="middle">10</text>
<line x1="586.28" y1="831.9" x2="586.28" y2="836.5" stroke="#000" stroke-width="1.1" />
<text transform="translate(586.28 847.5)" font-size="11.3" text-anchor="middle">15</text>
<line x1="609.54" y1="831.9" x2="609.54" y2="836.5" stroke="#000" stroke-width="1.1" />
<text transform="translate(609.54 847.5)" font-size="11.3" text-anchor="middle">20</text>
<line x1="632.8" y1="831.9" x2="632.8" y2="836.5" stroke="#000" stroke-width="1.1" />
<text transform="translate(632.8 847.5)" font-size="11.3" text-anchor="middle">25</text>
<text transform="translate(574.6 859.6)" font-size="11" text-anchor="middle" font-weight="bold">-Log<tspan font-size="7.8" dy="2.5">10</tspan><tspan dy="-2.5">(p-value)</tspan></text>
<text transform="translate(643.8 800.6) rotate(-90)" font-size="11" text-anchor="middle" font-weight="bold">Low GSI</text>
<text transform="translate(658.4 800.6) rotate(-90)" font-size="11" text-anchor="middle" font-weight="bold">genes</text>
</svg>
</body></html>
